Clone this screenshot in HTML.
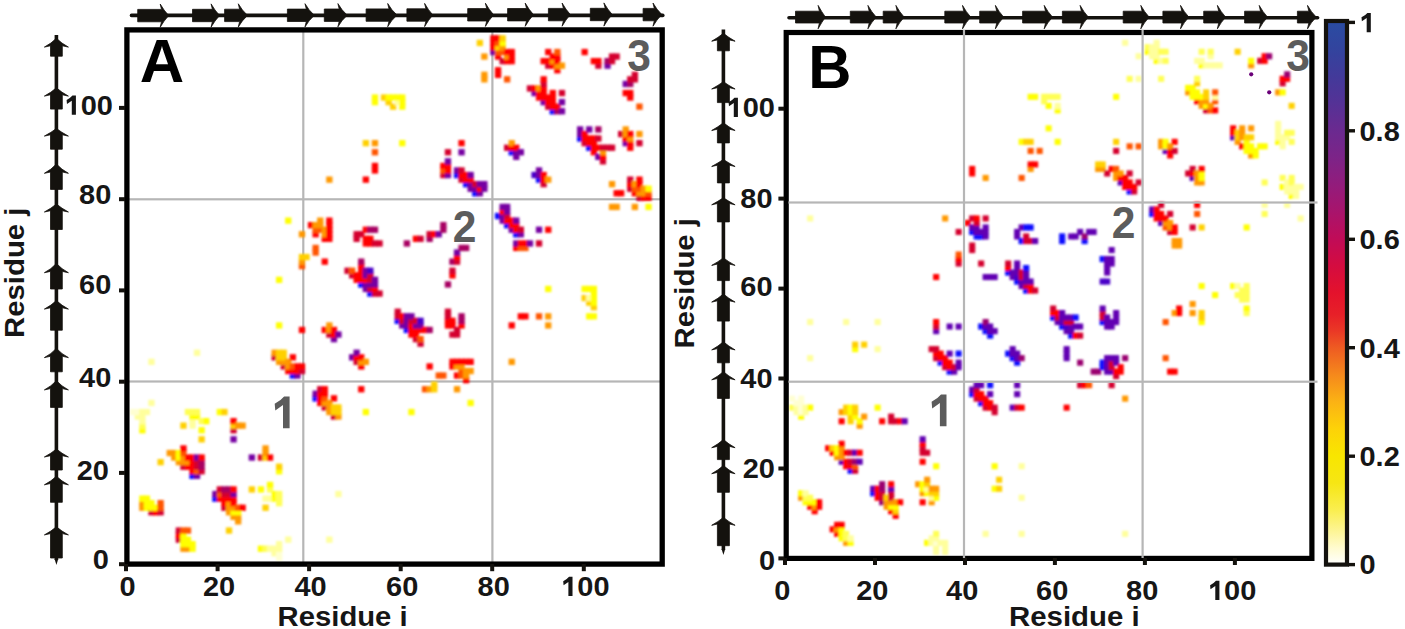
<!DOCTYPE html>
<html><head><meta charset="utf-8"><title>Contact maps</title>
<style>html,body{margin:0;padding:0;background:#fff;}body{width:1405px;height:629px;overflow:hidden;font-family:"Liberation Sans",sans-serif;}svg{display:block;}</style>
</head><body>
<svg width="1405" height="629" viewBox="0 0 1405 629">
<rect width="1405" height="629" fill="#ffffff"/>
<defs><filter id="bl" x="-2%" y="-2%" width="104%" height="104%"><feGaussianBlur stdDeviation="0.85"/></filter></defs>
<rect x="302.2" y="32" width="2.2" height="530" fill="#b6b6b6"/>
<rect x="491.3" y="32" width="2.2" height="530" fill="#b6b6b6"/>
<rect x="129" y="198.2" width="531" height="2.2" fill="#b6b6b6"/>
<rect x="129" y="380.4" width="531" height="2.2" fill="#b6b6b6"/>
<g filter="url(#bl)"><rect x="130.1" y="408.9" width="6.3" height="6.3" fill="#ffffd2"/>
<rect x="134.7" y="413.4" width="6.3" height="6.3" fill="#ffff9c"/>
<rect x="134.7" y="408.9" width="6.3" height="6.3" fill="#ffffd2"/>
<rect x="139.2" y="504.6" width="6.3" height="6.3" fill="#ff9800"/>
<rect x="139.2" y="500.0" width="6.3" height="6.3" fill="#ff9800"/>
<rect x="139.2" y="495.5" width="6.3" height="6.3" fill="#ffff00"/>
<rect x="139.2" y="427.1" width="6.3" height="6.3" fill="#ffff00"/>
<rect x="139.2" y="422.5" width="6.3" height="6.3" fill="#ffff55"/>
<rect x="139.2" y="418.0" width="6.3" height="6.3" fill="#ffff9c"/>
<rect x="139.2" y="413.4" width="6.3" height="6.3" fill="#ffff9c"/>
<rect x="139.2" y="408.9" width="6.3" height="6.3" fill="#ffff9c"/>
<rect x="143.8" y="504.6" width="6.3" height="6.3" fill="#ffff00"/>
<rect x="143.8" y="500.0" width="6.3" height="6.3" fill="#ffff00"/>
<rect x="143.8" y="495.5" width="6.3" height="6.3" fill="#ffff00"/>
<rect x="143.8" y="408.9" width="6.3" height="6.3" fill="#ffff9c"/>
<rect x="148.3" y="509.1" width="6.3" height="6.3" fill="#d4002e"/>
<rect x="148.3" y="504.6" width="6.3" height="6.3" fill="#ffff00"/>
<rect x="148.3" y="500.0" width="6.3" height="6.3" fill="#ffff00"/>
<rect x="148.3" y="399.8" width="6.3" height="6.3" fill="#ffff9c"/>
<rect x="148.3" y="358.7" width="6.3" height="6.3" fill="#ffff9c"/>
<rect x="152.9" y="509.1" width="6.3" height="6.3" fill="#ff0000"/>
<rect x="152.9" y="504.6" width="6.3" height="6.3" fill="#ffff00"/>
<rect x="157.5" y="509.1" width="6.3" height="6.3" fill="#d4002e"/>
<rect x="157.5" y="504.6" width="6.3" height="6.3" fill="#ff5500"/>
<rect x="157.5" y="500.0" width="6.3" height="6.3" fill="#ff5500"/>
<rect x="157.5" y="459.0" width="6.3" height="6.3" fill="#ffd000"/>
<rect x="166.6" y="449.9" width="6.3" height="6.3" fill="#ff9800"/>
<rect x="171.1" y="454.4" width="6.3" height="6.3" fill="#ff9800"/>
<rect x="171.1" y="449.9" width="6.3" height="6.3" fill="#ff9800"/>
<rect x="175.7" y="536.5" width="6.3" height="6.3" fill="#d4002e"/>
<rect x="175.7" y="531.9" width="6.3" height="6.3" fill="#ff0000"/>
<rect x="175.7" y="527.4" width="6.3" height="6.3" fill="#d4002e"/>
<rect x="175.7" y="459.0" width="6.3" height="6.3" fill="#ff9800"/>
<rect x="175.7" y="454.4" width="6.3" height="6.3" fill="#ffff00"/>
<rect x="175.7" y="449.9" width="6.3" height="6.3" fill="#ffff00"/>
<rect x="180.3" y="545.6" width="6.3" height="6.3" fill="#ff9800"/>
<rect x="180.3" y="541.0" width="6.3" height="6.3" fill="#ffff00"/>
<rect x="180.3" y="536.5" width="6.3" height="6.3" fill="#ffff00"/>
<rect x="180.3" y="531.9" width="6.3" height="6.3" fill="#ffff00"/>
<rect x="180.3" y="527.4" width="6.3" height="6.3" fill="#ff5500"/>
<rect x="180.3" y="463.6" width="6.3" height="6.3" fill="#d4002e"/>
<rect x="180.3" y="459.0" width="6.3" height="6.3" fill="#ff9800"/>
<rect x="180.3" y="454.4" width="6.3" height="6.3" fill="#ff9800"/>
<rect x="180.3" y="449.9" width="6.3" height="6.3" fill="#ff5500"/>
<rect x="180.3" y="445.3" width="6.3" height="6.3" fill="#ff0000"/>
<rect x="180.3" y="422.5" width="6.3" height="6.3" fill="#ffd000"/>
<rect x="184.8" y="545.6" width="6.3" height="6.3" fill="#ff9800"/>
<rect x="184.8" y="541.0" width="6.3" height="6.3" fill="#ffff00"/>
<rect x="184.8" y="536.5" width="6.3" height="6.3" fill="#ffff00"/>
<rect x="184.8" y="527.4" width="6.3" height="6.3" fill="#ff5500"/>
<rect x="184.8" y="463.6" width="6.3" height="6.3" fill="#ff0000"/>
<rect x="184.8" y="459.0" width="6.3" height="6.3" fill="#ff9800"/>
<rect x="184.8" y="454.4" width="6.3" height="6.3" fill="#ff0000"/>
<rect x="184.8" y="408.9" width="6.3" height="6.3" fill="#ffff55"/>
<rect x="189.4" y="545.6" width="6.3" height="6.3" fill="#ffff00"/>
<rect x="189.4" y="541.0" width="6.3" height="6.3" fill="#ffff00"/>
<rect x="189.4" y="472.7" width="6.3" height="6.3" fill="#0a0aff"/>
<rect x="189.4" y="468.1" width="6.3" height="6.3" fill="#ff0000"/>
<rect x="189.4" y="463.6" width="6.3" height="6.3" fill="#ff0000"/>
<rect x="189.4" y="459.0" width="6.3" height="6.3" fill="#ff0000"/>
<rect x="189.4" y="454.4" width="6.3" height="6.3" fill="#ff0000"/>
<rect x="189.4" y="422.5" width="6.3" height="6.3" fill="#ffff9c"/>
<rect x="189.4" y="418.0" width="6.3" height="6.3" fill="#ffff9c"/>
<rect x="189.4" y="413.4" width="6.3" height="6.3" fill="#ffff00"/>
<rect x="189.4" y="408.9" width="6.3" height="6.3" fill="#ffff55"/>
<rect x="193.9" y="472.7" width="6.3" height="6.3" fill="#7600a2"/>
<rect x="193.9" y="468.1" width="6.3" height="6.3" fill="#ff5500"/>
<rect x="193.9" y="463.6" width="6.3" height="6.3" fill="#d4002e"/>
<rect x="193.9" y="459.0" width="6.3" height="6.3" fill="#d4002e"/>
<rect x="193.9" y="454.4" width="6.3" height="6.3" fill="#7600a2"/>
<rect x="193.9" y="413.4" width="6.3" height="6.3" fill="#ffff00"/>
<rect x="193.9" y="408.9" width="6.3" height="6.3" fill="#ffff55"/>
<rect x="193.9" y="349.6" width="6.3" height="6.3" fill="#ffff9c"/>
<rect x="198.5" y="468.1" width="6.3" height="6.3" fill="#d4002e"/>
<rect x="198.5" y="463.6" width="6.3" height="6.3" fill="#a80062"/>
<rect x="198.5" y="459.0" width="6.3" height="6.3" fill="#a80062"/>
<rect x="198.5" y="454.4" width="6.3" height="6.3" fill="#ff0000"/>
<rect x="198.5" y="436.2" width="6.3" height="6.3" fill="#ffd000"/>
<rect x="198.5" y="427.1" width="6.3" height="6.3" fill="#ffff00"/>
<rect x="198.5" y="418.0" width="6.3" height="6.3" fill="#ffff55"/>
<rect x="203.1" y="418.0" width="6.3" height="6.3" fill="#ffff00"/>
<rect x="212.2" y="495.5" width="6.3" height="6.3" fill="#0a0aff"/>
<rect x="212.2" y="490.9" width="6.3" height="6.3" fill="#7600a2"/>
<rect x="216.7" y="495.5" width="6.3" height="6.3" fill="#ff0000"/>
<rect x="216.7" y="490.9" width="6.3" height="6.3" fill="#ff5500"/>
<rect x="216.7" y="486.3" width="6.3" height="6.3" fill="#d4002e"/>
<rect x="216.7" y="408.9" width="6.3" height="6.3" fill="#ffff00"/>
<rect x="221.3" y="504.6" width="6.3" height="6.3" fill="#d4002e"/>
<rect x="221.3" y="500.0" width="6.3" height="6.3" fill="#ff0000"/>
<rect x="221.3" y="495.5" width="6.3" height="6.3" fill="#ff0000"/>
<rect x="221.3" y="490.9" width="6.3" height="6.3" fill="#d4002e"/>
<rect x="221.3" y="486.3" width="6.3" height="6.3" fill="#a80062"/>
<rect x="221.3" y="408.9" width="6.3" height="6.3" fill="#ffd000"/>
<rect x="225.9" y="527.4" width="6.3" height="6.3" fill="#ffd000"/>
<rect x="225.9" y="509.1" width="6.3" height="6.3" fill="#ff9800"/>
<rect x="225.9" y="504.6" width="6.3" height="6.3" fill="#ff9800"/>
<rect x="225.9" y="500.0" width="6.3" height="6.3" fill="#ff9800"/>
<rect x="225.9" y="495.5" width="6.3" height="6.3" fill="#ff0000"/>
<rect x="225.9" y="490.9" width="6.3" height="6.3" fill="#d4002e"/>
<rect x="225.9" y="486.3" width="6.3" height="6.3" fill="#a80062"/>
<rect x="230.4" y="513.7" width="6.3" height="6.3" fill="#ff9800"/>
<rect x="230.4" y="509.1" width="6.3" height="6.3" fill="#ffff00"/>
<rect x="230.4" y="504.6" width="6.3" height="6.3" fill="#ff9800"/>
<rect x="230.4" y="500.0" width="6.3" height="6.3" fill="#ff0000"/>
<rect x="230.4" y="495.5" width="6.3" height="6.3" fill="#ff0000"/>
<rect x="230.4" y="490.9" width="6.3" height="6.3" fill="#7600a2"/>
<rect x="230.4" y="486.3" width="6.3" height="6.3" fill="#ff0000"/>
<rect x="230.4" y="436.2" width="6.3" height="6.3" fill="#7600a2"/>
<rect x="230.4" y="427.1" width="6.3" height="6.3" fill="#d4002e"/>
<rect x="230.4" y="422.5" width="6.3" height="6.3" fill="#ffd000"/>
<rect x="230.4" y="418.0" width="6.3" height="6.3" fill="#ff0000"/>
<rect x="235.0" y="518.2" width="6.3" height="6.3" fill="#ff9800"/>
<rect x="235.0" y="513.7" width="6.3" height="6.3" fill="#ff9800"/>
<rect x="235.0" y="509.1" width="6.3" height="6.3" fill="#ffff00"/>
<rect x="235.0" y="504.6" width="6.3" height="6.3" fill="#ff5500"/>
<rect x="235.0" y="422.5" width="6.3" height="6.3" fill="#ff9800"/>
<rect x="239.5" y="504.6" width="6.3" height="6.3" fill="#ff0000"/>
<rect x="239.5" y="422.5" width="6.3" height="6.3" fill="#ff9800"/>
<rect x="248.7" y="486.3" width="6.3" height="6.3" fill="#ffd000"/>
<rect x="248.7" y="454.4" width="6.3" height="6.3" fill="#7600a2"/>
<rect x="257.8" y="545.6" width="6.3" height="6.3" fill="#ffff00"/>
<rect x="257.8" y="486.3" width="6.3" height="6.3" fill="#ffff00"/>
<rect x="257.8" y="454.4" width="6.3" height="6.3" fill="#d4002e"/>
<rect x="262.4" y="545.6" width="6.3" height="6.3" fill="#ffff55"/>
<rect x="262.4" y="504.6" width="6.3" height="6.3" fill="#ffd000"/>
<rect x="262.4" y="495.5" width="6.3" height="6.3" fill="#ffff9c"/>
<rect x="262.4" y="454.4" width="6.3" height="6.3" fill="#ffd000"/>
<rect x="262.4" y="449.9" width="6.3" height="6.3" fill="#ff9800"/>
<rect x="262.4" y="445.3" width="6.3" height="6.3" fill="#ff9800"/>
<rect x="266.9" y="545.6" width="6.3" height="6.3" fill="#ffff9c"/>
<rect x="266.9" y="495.5" width="6.3" height="6.3" fill="#ffff9c"/>
<rect x="266.9" y="486.3" width="6.3" height="6.3" fill="#ffff55"/>
<rect x="266.9" y="481.8" width="6.3" height="6.3" fill="#ffff00"/>
<rect x="266.9" y="454.4" width="6.3" height="6.3" fill="#ff0000"/>
<rect x="271.5" y="550.1" width="6.3" height="6.3" fill="#ffff9c"/>
<rect x="271.5" y="545.6" width="6.3" height="6.3" fill="#ffff9c"/>
<rect x="271.5" y="495.5" width="6.3" height="6.3" fill="#ffff00"/>
<rect x="271.5" y="490.9" width="6.3" height="6.3" fill="#ffff00"/>
<rect x="271.5" y="354.2" width="6.3" height="6.3" fill="#d4002e"/>
<rect x="271.5" y="349.6" width="6.3" height="6.3" fill="#ff9800"/>
<rect x="276.0" y="554.7" width="6.3" height="6.3" fill="#ffffd2"/>
<rect x="276.0" y="550.1" width="6.3" height="6.3" fill="#ffffd2"/>
<rect x="276.0" y="545.6" width="6.3" height="6.3" fill="#ffff9c"/>
<rect x="276.0" y="541.0" width="6.3" height="6.3" fill="#ffff9c"/>
<rect x="276.0" y="500.0" width="6.3" height="6.3" fill="#ffff55"/>
<rect x="276.0" y="495.5" width="6.3" height="6.3" fill="#ffff55"/>
<rect x="276.0" y="490.9" width="6.3" height="6.3" fill="#ffff55"/>
<rect x="276.0" y="468.1" width="6.3" height="6.3" fill="#ffff00"/>
<rect x="276.0" y="463.6" width="6.3" height="6.3" fill="#ffd000"/>
<rect x="276.0" y="358.7" width="6.3" height="6.3" fill="#ff9800"/>
<rect x="276.0" y="354.2" width="6.3" height="6.3" fill="#ffd000"/>
<rect x="276.0" y="349.6" width="6.3" height="6.3" fill="#ffd000"/>
<rect x="276.0" y="322.3" width="6.3" height="6.3" fill="#ffff00"/>
<rect x="276.0" y="276.7" width="6.3" height="6.3" fill="#ffff00"/>
<rect x="280.6" y="363.3" width="6.3" height="6.3" fill="#d4002e"/>
<rect x="280.6" y="358.7" width="6.3" height="6.3" fill="#ff9800"/>
<rect x="280.6" y="354.2" width="6.3" height="6.3" fill="#ffd000"/>
<rect x="280.6" y="349.6" width="6.3" height="6.3" fill="#ffd000"/>
<rect x="285.1" y="536.5" width="6.3" height="6.3" fill="#ffff9c"/>
<rect x="285.1" y="367.9" width="6.3" height="6.3" fill="#ff0000"/>
<rect x="285.1" y="363.3" width="6.3" height="6.3" fill="#ff9800"/>
<rect x="285.1" y="358.7" width="6.3" height="6.3" fill="#ff9800"/>
<rect x="285.1" y="217.5" width="6.3" height="6.3" fill="#ffff00"/>
<rect x="289.7" y="372.4" width="6.3" height="6.3" fill="#0a0aff"/>
<rect x="289.7" y="367.9" width="6.3" height="6.3" fill="#ff0000"/>
<rect x="289.7" y="363.3" width="6.3" height="6.3" fill="#ff5500"/>
<rect x="289.7" y="354.2" width="6.3" height="6.3" fill="#ff0000"/>
<rect x="294.3" y="372.4" width="6.3" height="6.3" fill="#7600a2"/>
<rect x="294.3" y="367.9" width="6.3" height="6.3" fill="#ff0000"/>
<rect x="294.3" y="363.3" width="6.3" height="6.3" fill="#ff0000"/>
<rect x="298.8" y="367.9" width="6.3" height="6.3" fill="#d4002e"/>
<rect x="298.8" y="363.3" width="6.3" height="6.3" fill="#ff0000"/>
<rect x="298.8" y="326.8" width="6.3" height="6.3" fill="#ff0000"/>
<rect x="298.8" y="263.0" width="6.3" height="6.3" fill="#ff5500"/>
<rect x="298.8" y="258.5" width="6.3" height="6.3" fill="#ff9800"/>
<rect x="298.8" y="253.9" width="6.3" height="6.3" fill="#ffd000"/>
<rect x="298.8" y="231.1" width="6.3" height="6.3" fill="#ff9800"/>
<rect x="303.4" y="253.9" width="6.3" height="6.3" fill="#ffd000"/>
<rect x="307.9" y="222.0" width="6.3" height="6.3" fill="#ff0000"/>
<rect x="312.5" y="395.2" width="6.3" height="6.3" fill="#0a0aff"/>
<rect x="312.5" y="390.6" width="6.3" height="6.3" fill="#7600a2"/>
<rect x="312.5" y="249.4" width="6.3" height="6.3" fill="#ff5500"/>
<rect x="312.5" y="244.8" width="6.3" height="6.3" fill="#ff5500"/>
<rect x="312.5" y="231.1" width="6.3" height="6.3" fill="#ff0000"/>
<rect x="312.5" y="226.6" width="6.3" height="6.3" fill="#ff5500"/>
<rect x="312.5" y="222.0" width="6.3" height="6.3" fill="#ff9800"/>
<rect x="317.1" y="399.8" width="6.3" height="6.3" fill="#ff0000"/>
<rect x="317.1" y="395.2" width="6.3" height="6.3" fill="#ff0000"/>
<rect x="317.1" y="390.6" width="6.3" height="6.3" fill="#ff0000"/>
<rect x="317.1" y="386.1" width="6.3" height="6.3" fill="#d4002e"/>
<rect x="317.1" y="226.6" width="6.3" height="6.3" fill="#ff5500"/>
<rect x="317.1" y="222.0" width="6.3" height="6.3" fill="#ff9800"/>
<rect x="317.1" y="217.5" width="6.3" height="6.3" fill="#ff9800"/>
<rect x="321.6" y="404.3" width="6.3" height="6.3" fill="#d4002e"/>
<rect x="321.6" y="399.8" width="6.3" height="6.3" fill="#ff9800"/>
<rect x="321.6" y="395.2" width="6.3" height="6.3" fill="#ff5500"/>
<rect x="321.6" y="390.6" width="6.3" height="6.3" fill="#ff0000"/>
<rect x="321.6" y="386.1" width="6.3" height="6.3" fill="#ff0000"/>
<rect x="321.6" y="326.8" width="6.3" height="6.3" fill="#ff0000"/>
<rect x="321.6" y="258.5" width="6.3" height="6.3" fill="#ff0000"/>
<rect x="321.6" y="235.7" width="6.3" height="6.3" fill="#ff0000"/>
<rect x="321.6" y="231.1" width="6.3" height="6.3" fill="#ff9800"/>
<rect x="321.6" y="226.6" width="6.3" height="6.3" fill="#ff9800"/>
<rect x="326.2" y="536.5" width="6.3" height="6.3" fill="#ffff9c"/>
<rect x="326.2" y="408.9" width="6.3" height="6.3" fill="#ff9800"/>
<rect x="326.2" y="404.3" width="6.3" height="6.3" fill="#ff9800"/>
<rect x="326.2" y="399.8" width="6.3" height="6.3" fill="#ff9800"/>
<rect x="326.2" y="331.4" width="6.3" height="6.3" fill="#d4002e"/>
<rect x="326.2" y="326.8" width="6.3" height="6.3" fill="#ff9800"/>
<rect x="326.2" y="322.3" width="6.3" height="6.3" fill="#ff9800"/>
<rect x="326.2" y="235.7" width="6.3" height="6.3" fill="#ff0000"/>
<rect x="326.2" y="231.1" width="6.3" height="6.3" fill="#ff0000"/>
<rect x="326.2" y="226.6" width="6.3" height="6.3" fill="#ff0000"/>
<rect x="326.2" y="222.0" width="6.3" height="6.3" fill="#ff0000"/>
<rect x="326.2" y="217.5" width="6.3" height="6.3" fill="#ff0000"/>
<rect x="326.2" y="176.5" width="6.3" height="6.3" fill="#ff9800"/>
<rect x="330.8" y="413.4" width="6.3" height="6.3" fill="#d4002e"/>
<rect x="330.8" y="408.9" width="6.3" height="6.3" fill="#ffd000"/>
<rect x="330.8" y="404.3" width="6.3" height="6.3" fill="#ffd000"/>
<rect x="330.8" y="395.2" width="6.3" height="6.3" fill="#ff0000"/>
<rect x="330.8" y="336.0" width="6.3" height="6.3" fill="#7600a2"/>
<rect x="330.8" y="331.4" width="6.3" height="6.3" fill="#ff0000"/>
<rect x="330.8" y="326.8" width="6.3" height="6.3" fill="#ff0000"/>
<rect x="335.3" y="490.9" width="6.3" height="6.3" fill="#ffff9c"/>
<rect x="335.3" y="413.4" width="6.3" height="6.3" fill="#ff9800"/>
<rect x="335.3" y="408.9" width="6.3" height="6.3" fill="#ffd000"/>
<rect x="335.3" y="404.3" width="6.3" height="6.3" fill="#ffd000"/>
<rect x="335.3" y="331.4" width="6.3" height="6.3" fill="#7600a2"/>
<rect x="344.4" y="267.6" width="6.3" height="6.3" fill="#d4002e"/>
<rect x="349.0" y="354.2" width="6.3" height="6.3" fill="#7600a2"/>
<rect x="349.0" y="272.2" width="6.3" height="6.3" fill="#d4002e"/>
<rect x="349.0" y="267.6" width="6.3" height="6.3" fill="#ff5500"/>
<rect x="353.5" y="358.7" width="6.3" height="6.3" fill="#d4002e"/>
<rect x="353.5" y="354.2" width="6.3" height="6.3" fill="#ff0000"/>
<rect x="353.5" y="349.6" width="6.3" height="6.3" fill="#7600a2"/>
<rect x="353.5" y="276.7" width="6.3" height="6.3" fill="#ff0000"/>
<rect x="353.5" y="272.2" width="6.3" height="6.3" fill="#ff0000"/>
<rect x="353.5" y="235.7" width="6.3" height="6.3" fill="#d4002e"/>
<rect x="353.5" y="231.1" width="6.3" height="6.3" fill="#d4002e"/>
<rect x="358.1" y="386.1" width="6.3" height="6.3" fill="#ff0000"/>
<rect x="358.1" y="363.3" width="6.3" height="6.3" fill="#ff0000"/>
<rect x="358.1" y="358.7" width="6.3" height="6.3" fill="#ff9800"/>
<rect x="358.1" y="354.2" width="6.3" height="6.3" fill="#ff0000"/>
<rect x="358.1" y="281.3" width="6.3" height="6.3" fill="#0a0aff"/>
<rect x="358.1" y="276.7" width="6.3" height="6.3" fill="#ff0000"/>
<rect x="358.1" y="272.2" width="6.3" height="6.3" fill="#ff0000"/>
<rect x="358.1" y="267.6" width="6.3" height="6.3" fill="#ff0000"/>
<rect x="358.1" y="263.0" width="6.3" height="6.3" fill="#ff0000"/>
<rect x="358.1" y="258.5" width="6.3" height="6.3" fill="#a80062"/>
<rect x="358.1" y="231.1" width="6.3" height="6.3" fill="#d4002e"/>
<rect x="362.7" y="408.9" width="6.3" height="6.3" fill="#ffff00"/>
<rect x="362.7" y="358.7" width="6.3" height="6.3" fill="#ff9800"/>
<rect x="362.7" y="285.8" width="6.3" height="6.3" fill="#7600a2"/>
<rect x="362.7" y="281.3" width="6.3" height="6.3" fill="#7600a2"/>
<rect x="362.7" y="276.7" width="6.3" height="6.3" fill="#ff0000"/>
<rect x="362.7" y="272.2" width="6.3" height="6.3" fill="#7600a2"/>
<rect x="362.7" y="267.6" width="6.3" height="6.3" fill="#7600a2"/>
<rect x="362.7" y="240.3" width="6.3" height="6.3" fill="#ff0000"/>
<rect x="362.7" y="235.7" width="6.3" height="6.3" fill="#ff0000"/>
<rect x="362.7" y="226.6" width="6.3" height="6.3" fill="#ff0000"/>
<rect x="362.7" y="176.5" width="6.3" height="6.3" fill="#ff0000"/>
<rect x="362.7" y="140.0" width="6.3" height="6.3" fill="#ffd000"/>
<rect x="367.2" y="290.4" width="6.3" height="6.3" fill="#0a0aff"/>
<rect x="367.2" y="285.8" width="6.3" height="6.3" fill="#d4002e"/>
<rect x="367.2" y="281.3" width="6.3" height="6.3" fill="#7600a2"/>
<rect x="367.2" y="276.7" width="6.3" height="6.3" fill="#d4002e"/>
<rect x="367.2" y="272.2" width="6.3" height="6.3" fill="#d4002e"/>
<rect x="367.2" y="267.6" width="6.3" height="6.3" fill="#4a00c8"/>
<rect x="367.2" y="240.3" width="6.3" height="6.3" fill="#ff0000"/>
<rect x="367.2" y="235.7" width="6.3" height="6.3" fill="#ff0000"/>
<rect x="367.2" y="226.6" width="6.3" height="6.3" fill="#a80062"/>
<rect x="371.8" y="290.4" width="6.3" height="6.3" fill="#d4002e"/>
<rect x="371.8" y="285.8" width="6.3" height="6.3" fill="#ff0000"/>
<rect x="371.8" y="281.3" width="6.3" height="6.3" fill="#7600a2"/>
<rect x="371.8" y="276.7" width="6.3" height="6.3" fill="#7600a2"/>
<rect x="371.8" y="240.3" width="6.3" height="6.3" fill="#d4002e"/>
<rect x="371.8" y="226.6" width="6.3" height="6.3" fill="#a80062"/>
<rect x="371.8" y="167.3" width="6.3" height="6.3" fill="#ff0000"/>
<rect x="371.8" y="162.8" width="6.3" height="6.3" fill="#ff0000"/>
<rect x="371.8" y="149.1" width="6.3" height="6.3" fill="#ff5500"/>
<rect x="371.8" y="140.0" width="6.3" height="6.3" fill="#ff9800"/>
<rect x="371.8" y="99.0" width="6.3" height="6.3" fill="#ffff00"/>
<rect x="371.8" y="94.4" width="6.3" height="6.3" fill="#ffff00"/>
<rect x="376.4" y="290.4" width="6.3" height="6.3" fill="#d4002e"/>
<rect x="376.4" y="240.3" width="6.3" height="6.3" fill="#d4002e"/>
<rect x="380.9" y="94.4" width="6.3" height="6.3" fill="#ffd000"/>
<rect x="385.5" y="99.0" width="6.3" height="6.3" fill="#ffd000"/>
<rect x="385.5" y="94.4" width="6.3" height="6.3" fill="#ffff00"/>
<rect x="390.0" y="103.5" width="6.3" height="6.3" fill="#ffd000"/>
<rect x="390.0" y="94.4" width="6.3" height="6.3" fill="#ffff00"/>
<rect x="394.6" y="317.7" width="6.3" height="6.3" fill="#0a0aff"/>
<rect x="394.6" y="313.2" width="6.3" height="6.3" fill="#d4002e"/>
<rect x="394.6" y="308.6" width="6.3" height="6.3" fill="#d4002e"/>
<rect x="394.6" y="99.0" width="6.3" height="6.3" fill="#ffff9c"/>
<rect x="394.6" y="94.4" width="6.3" height="6.3" fill="#ffff00"/>
<rect x="399.1" y="322.3" width="6.3" height="6.3" fill="#7600a2"/>
<rect x="399.1" y="317.7" width="6.3" height="6.3" fill="#d4002e"/>
<rect x="399.1" y="313.2" width="6.3" height="6.3" fill="#ff0000"/>
<rect x="399.1" y="140.0" width="6.3" height="6.3" fill="#ffff00"/>
<rect x="399.1" y="103.5" width="6.3" height="6.3" fill="#ffff00"/>
<rect x="399.1" y="99.0" width="6.3" height="6.3" fill="#ffff00"/>
<rect x="399.1" y="94.4" width="6.3" height="6.3" fill="#ffff00"/>
<rect x="403.7" y="326.8" width="6.3" height="6.3" fill="#0a0aff"/>
<rect x="403.7" y="322.3" width="6.3" height="6.3" fill="#7600a2"/>
<rect x="403.7" y="317.7" width="6.3" height="6.3" fill="#7600a2"/>
<rect x="403.7" y="313.2" width="6.3" height="6.3" fill="#7600a2"/>
<rect x="403.7" y="240.3" width="6.3" height="6.3" fill="#a80062"/>
<rect x="408.3" y="408.9" width="6.3" height="6.3" fill="#ffff00"/>
<rect x="408.3" y="331.4" width="6.3" height="6.3" fill="#ff0000"/>
<rect x="408.3" y="326.8" width="6.3" height="6.3" fill="#ff0000"/>
<rect x="408.3" y="322.3" width="6.3" height="6.3" fill="#ff0000"/>
<rect x="408.3" y="317.7" width="6.3" height="6.3" fill="#d4002e"/>
<rect x="408.3" y="313.2" width="6.3" height="6.3" fill="#7600a2"/>
<rect x="412.8" y="336.0" width="6.3" height="6.3" fill="#d4002e"/>
<rect x="412.8" y="331.4" width="6.3" height="6.3" fill="#ff0000"/>
<rect x="412.8" y="326.8" width="6.3" height="6.3" fill="#ff0000"/>
<rect x="412.8" y="322.3" width="6.3" height="6.3" fill="#7600a2"/>
<rect x="412.8" y="317.7" width="6.3" height="6.3" fill="#d4002e"/>
<rect x="412.8" y="235.7" width="6.3" height="6.3" fill="#ff0000"/>
<rect x="417.4" y="340.5" width="6.3" height="6.3" fill="#d4002e"/>
<rect x="417.4" y="336.0" width="6.3" height="6.3" fill="#ff5500"/>
<rect x="417.4" y="326.8" width="6.3" height="6.3" fill="#ff0000"/>
<rect x="417.4" y="322.3" width="6.3" height="6.3" fill="#7600a2"/>
<rect x="417.4" y="317.7" width="6.3" height="6.3" fill="#4a00c8"/>
<rect x="417.4" y="235.7" width="6.3" height="6.3" fill="#d4002e"/>
<rect x="421.9" y="386.1" width="6.3" height="6.3" fill="#ff5500"/>
<rect x="421.9" y="326.8" width="6.3" height="6.3" fill="#ff0000"/>
<rect x="426.5" y="386.1" width="6.3" height="6.3" fill="#ff9800"/>
<rect x="426.5" y="363.3" width="6.3" height="6.3" fill="#ff0000"/>
<rect x="426.5" y="326.8" width="6.3" height="6.3" fill="#a80062"/>
<rect x="426.5" y="235.7" width="6.3" height="6.3" fill="#a80062"/>
<rect x="426.5" y="231.1" width="6.3" height="6.3" fill="#d4002e"/>
<rect x="431.1" y="386.1" width="6.3" height="6.3" fill="#ffd000"/>
<rect x="431.1" y="381.5" width="6.3" height="6.3" fill="#ffd000"/>
<rect x="431.1" y="231.1" width="6.3" height="6.3" fill="#ff0000"/>
<rect x="435.6" y="372.4" width="6.3" height="6.3" fill="#ff5500"/>
<rect x="435.6" y="231.1" width="6.3" height="6.3" fill="#7600a2"/>
<rect x="440.2" y="372.4" width="6.3" height="6.3" fill="#ff5500"/>
<rect x="440.2" y="226.6" width="6.3" height="6.3" fill="#a80062"/>
<rect x="440.2" y="222.0" width="6.3" height="6.3" fill="#a80062"/>
<rect x="440.2" y="171.9" width="6.3" height="6.3" fill="#d4002e"/>
<rect x="440.2" y="167.3" width="6.3" height="6.3" fill="#ff5500"/>
<rect x="440.2" y="162.8" width="6.3" height="6.3" fill="#ff0000"/>
<rect x="444.8" y="322.3" width="6.3" height="6.3" fill="#ff0000"/>
<rect x="444.8" y="317.7" width="6.3" height="6.3" fill="#ff0000"/>
<rect x="444.8" y="313.2" width="6.3" height="6.3" fill="#d4002e"/>
<rect x="444.8" y="308.6" width="6.3" height="6.3" fill="#d4002e"/>
<rect x="444.8" y="281.3" width="6.3" height="6.3" fill="#a80062"/>
<rect x="444.8" y="171.9" width="6.3" height="6.3" fill="#7600a2"/>
<rect x="444.8" y="167.3" width="6.3" height="6.3" fill="#ff0000"/>
<rect x="444.8" y="162.8" width="6.3" height="6.3" fill="#ff0000"/>
<rect x="444.8" y="158.2" width="6.3" height="6.3" fill="#7600a2"/>
<rect x="444.8" y="149.1" width="6.3" height="6.3" fill="#d4002e"/>
<rect x="449.3" y="363.3" width="6.3" height="6.3" fill="#ff0000"/>
<rect x="449.3" y="358.7" width="6.3" height="6.3" fill="#ff0000"/>
<rect x="449.3" y="331.4" width="6.3" height="6.3" fill="#d4002e"/>
<rect x="449.3" y="322.3" width="6.3" height="6.3" fill="#ff0000"/>
<rect x="449.3" y="317.7" width="6.3" height="6.3" fill="#ff0000"/>
<rect x="449.3" y="272.2" width="6.3" height="6.3" fill="#ff0000"/>
<rect x="449.3" y="267.6" width="6.3" height="6.3" fill="#d4002e"/>
<rect x="449.3" y="258.5" width="6.3" height="6.3" fill="#a80062"/>
<rect x="453.9" y="386.1" width="6.3" height="6.3" fill="#ff9800"/>
<rect x="453.9" y="372.4" width="6.3" height="6.3" fill="#ff0000"/>
<rect x="453.9" y="363.3" width="6.3" height="6.3" fill="#ff9800"/>
<rect x="453.9" y="358.7" width="6.3" height="6.3" fill="#ff0000"/>
<rect x="453.9" y="331.4" width="6.3" height="6.3" fill="#d4002e"/>
<rect x="453.9" y="326.8" width="6.3" height="6.3" fill="#d4002e"/>
<rect x="453.9" y="258.5" width="6.3" height="6.3" fill="#d4002e"/>
<rect x="453.9" y="253.9" width="6.3" height="6.3" fill="#ff0000"/>
<rect x="453.9" y="249.4" width="6.3" height="6.3" fill="#7600a2"/>
<rect x="453.9" y="171.9" width="6.3" height="6.3" fill="#0a0aff"/>
<rect x="453.9" y="167.3" width="6.3" height="6.3" fill="#7600a2"/>
<rect x="458.4" y="372.4" width="6.3" height="6.3" fill="#ff5500"/>
<rect x="458.4" y="367.9" width="6.3" height="6.3" fill="#ff5500"/>
<rect x="458.4" y="363.3" width="6.3" height="6.3" fill="#ff9800"/>
<rect x="458.4" y="358.7" width="6.3" height="6.3" fill="#ff0000"/>
<rect x="458.4" y="322.3" width="6.3" height="6.3" fill="#ff0000"/>
<rect x="458.4" y="317.7" width="6.3" height="6.3" fill="#a80062"/>
<rect x="458.4" y="313.2" width="6.3" height="6.3" fill="#a80062"/>
<rect x="458.4" y="244.8" width="6.3" height="6.3" fill="#a80062"/>
<rect x="458.4" y="176.5" width="6.3" height="6.3" fill="#d4002e"/>
<rect x="458.4" y="171.9" width="6.3" height="6.3" fill="#ff0000"/>
<rect x="458.4" y="167.3" width="6.3" height="6.3" fill="#d4002e"/>
<rect x="458.4" y="149.1" width="6.3" height="6.3" fill="#7600a2"/>
<rect x="458.4" y="140.0" width="6.3" height="6.3" fill="#ff0000"/>
<rect x="463.0" y="377.0" width="6.3" height="6.3" fill="#ff0000"/>
<rect x="463.0" y="372.4" width="6.3" height="6.3" fill="#ff9800"/>
<rect x="463.0" y="367.9" width="6.3" height="6.3" fill="#ff9800"/>
<rect x="463.0" y="358.7" width="6.3" height="6.3" fill="#ff0000"/>
<rect x="463.0" y="244.8" width="6.3" height="6.3" fill="#a80062"/>
<rect x="463.0" y="181.0" width="6.3" height="6.3" fill="#0a0aff"/>
<rect x="463.0" y="176.5" width="6.3" height="6.3" fill="#ff0000"/>
<rect x="463.0" y="171.9" width="6.3" height="6.3" fill="#ff0000"/>
<rect x="467.5" y="399.8" width="6.3" height="6.3" fill="#ffff00"/>
<rect x="467.5" y="367.9" width="6.3" height="6.3" fill="#ff9800"/>
<rect x="467.5" y="358.7" width="6.3" height="6.3" fill="#ff0000"/>
<rect x="467.5" y="185.6" width="6.3" height="6.3" fill="#7600a2"/>
<rect x="467.5" y="181.0" width="6.3" height="6.3" fill="#7600a2"/>
<rect x="467.5" y="176.5" width="6.3" height="6.3" fill="#ff0000"/>
<rect x="467.5" y="171.9" width="6.3" height="6.3" fill="#7600a2"/>
<rect x="472.1" y="190.1" width="6.3" height="6.3" fill="#0a0aff"/>
<rect x="472.1" y="185.6" width="6.3" height="6.3" fill="#7600a2"/>
<rect x="472.1" y="181.0" width="6.3" height="6.3" fill="#d4002e"/>
<rect x="476.7" y="190.1" width="6.3" height="6.3" fill="#7600a2"/>
<rect x="476.7" y="185.6" width="6.3" height="6.3" fill="#ff0000"/>
<rect x="476.7" y="181.0" width="6.3" height="6.3" fill="#7600a2"/>
<rect x="476.7" y="39.8" width="6.3" height="6.3" fill="#ffd000"/>
<rect x="481.2" y="185.6" width="6.3" height="6.3" fill="#7600a2"/>
<rect x="481.2" y="181.0" width="6.3" height="6.3" fill="#7600a2"/>
<rect x="481.2" y="76.2" width="6.3" height="6.3" fill="#ff9800"/>
<rect x="481.2" y="71.7" width="6.3" height="6.3" fill="#ff9800"/>
<rect x="481.2" y="53.4" width="6.3" height="6.3" fill="#ff9800"/>
<rect x="490.3" y="48.9" width="6.3" height="6.3" fill="#7600a2"/>
<rect x="490.3" y="44.3" width="6.3" height="6.3" fill="#ff0000"/>
<rect x="490.3" y="39.8" width="6.3" height="6.3" fill="#ff0000"/>
<rect x="490.3" y="35.2" width="6.3" height="6.3" fill="#ff0000"/>
<rect x="494.9" y="212.9" width="6.3" height="6.3" fill="#0a0aff"/>
<rect x="494.9" y="71.7" width="6.3" height="6.3" fill="#ff0000"/>
<rect x="494.9" y="67.1" width="6.3" height="6.3" fill="#ff0000"/>
<rect x="494.9" y="53.4" width="6.3" height="6.3" fill="#ff0000"/>
<rect x="494.9" y="48.9" width="6.3" height="6.3" fill="#ff5500"/>
<rect x="494.9" y="44.3" width="6.3" height="6.3" fill="#ffd000"/>
<rect x="494.9" y="39.8" width="6.3" height="6.3" fill="#ff5500"/>
<rect x="494.9" y="35.2" width="6.3" height="6.3" fill="#ff0000"/>
<rect x="499.5" y="217.5" width="6.3" height="6.3" fill="#7600a2"/>
<rect x="499.5" y="212.9" width="6.3" height="6.3" fill="#7600a2"/>
<rect x="499.5" y="208.4" width="6.3" height="6.3" fill="#ff0000"/>
<rect x="499.5" y="203.8" width="6.3" height="6.3" fill="#7600a2"/>
<rect x="499.5" y="58.0" width="6.3" height="6.3" fill="#d4002e"/>
<rect x="499.5" y="48.9" width="6.3" height="6.3" fill="#ff5500"/>
<rect x="499.5" y="44.3" width="6.3" height="6.3" fill="#ff9800"/>
<rect x="499.5" y="39.8" width="6.3" height="6.3" fill="#ffff00"/>
<rect x="499.5" y="35.2" width="6.3" height="6.3" fill="#ffd000"/>
<rect x="504.0" y="222.0" width="6.3" height="6.3" fill="#0a0aff"/>
<rect x="504.0" y="217.5" width="6.3" height="6.3" fill="#ff0000"/>
<rect x="504.0" y="212.9" width="6.3" height="6.3" fill="#d4002e"/>
<rect x="504.0" y="208.4" width="6.3" height="6.3" fill="#7600a2"/>
<rect x="504.0" y="203.8" width="6.3" height="6.3" fill="#7600a2"/>
<rect x="504.0" y="144.6" width="6.3" height="6.3" fill="#d4002e"/>
<rect x="504.0" y="76.2" width="6.3" height="6.3" fill="#ff5500"/>
<rect x="504.0" y="58.0" width="6.3" height="6.3" fill="#ff0000"/>
<rect x="504.0" y="53.4" width="6.3" height="6.3" fill="#ff9800"/>
<rect x="504.0" y="48.9" width="6.3" height="6.3" fill="#ff0000"/>
<rect x="508.6" y="358.7" width="6.3" height="6.3" fill="#ff9800"/>
<rect x="508.6" y="322.3" width="6.3" height="6.3" fill="#ff0000"/>
<rect x="508.6" y="226.6" width="6.3" height="6.3" fill="#7600a2"/>
<rect x="508.6" y="222.0" width="6.3" height="6.3" fill="#ff0000"/>
<rect x="508.6" y="217.5" width="6.3" height="6.3" fill="#ff0000"/>
<rect x="508.6" y="149.1" width="6.3" height="6.3" fill="#0a0aff"/>
<rect x="508.6" y="144.6" width="6.3" height="6.3" fill="#ff0000"/>
<rect x="508.6" y="140.0" width="6.3" height="6.3" fill="#ff9800"/>
<rect x="508.6" y="58.0" width="6.3" height="6.3" fill="#ff0000"/>
<rect x="508.6" y="53.4" width="6.3" height="6.3" fill="#ff0000"/>
<rect x="508.6" y="48.9" width="6.3" height="6.3" fill="#ff0000"/>
<rect x="513.1" y="244.8" width="6.3" height="6.3" fill="#ff0000"/>
<rect x="513.1" y="240.3" width="6.3" height="6.3" fill="#7600a2"/>
<rect x="513.1" y="231.1" width="6.3" height="6.3" fill="#0a0aff"/>
<rect x="513.1" y="226.6" width="6.3" height="6.3" fill="#ff0000"/>
<rect x="513.1" y="222.0" width="6.3" height="6.3" fill="#ff0000"/>
<rect x="513.1" y="217.5" width="6.3" height="6.3" fill="#7600a2"/>
<rect x="513.1" y="153.7" width="6.3" height="6.3" fill="#7600a2"/>
<rect x="513.1" y="149.1" width="6.3" height="6.3" fill="#7600a2"/>
<rect x="513.1" y="144.6" width="6.3" height="6.3" fill="#ff0000"/>
<rect x="517.7" y="313.2" width="6.3" height="6.3" fill="#ff0000"/>
<rect x="517.7" y="244.8" width="6.3" height="6.3" fill="#ff5500"/>
<rect x="517.7" y="240.3" width="6.3" height="6.3" fill="#ff0000"/>
<rect x="517.7" y="231.1" width="6.3" height="6.3" fill="#7600a2"/>
<rect x="517.7" y="226.6" width="6.3" height="6.3" fill="#d4002e"/>
<rect x="517.7" y="149.1" width="6.3" height="6.3" fill="#7600a2"/>
<rect x="522.3" y="313.2" width="6.3" height="6.3" fill="#ff0000"/>
<rect x="522.3" y="244.8" width="6.3" height="6.3" fill="#ff5500"/>
<rect x="522.3" y="240.3" width="6.3" height="6.3" fill="#ff0000"/>
<rect x="526.8" y="240.3" width="6.3" height="6.3" fill="#7600a2"/>
<rect x="526.8" y="85.3" width="6.3" height="6.3" fill="#d4002e"/>
<rect x="531.4" y="171.9" width="6.3" height="6.3" fill="#4a00c8"/>
<rect x="531.4" y="89.9" width="6.3" height="6.3" fill="#7600a2"/>
<rect x="531.4" y="85.3" width="6.3" height="6.3" fill="#ff0000"/>
<rect x="535.9" y="313.2" width="6.3" height="6.3" fill="#ff5500"/>
<rect x="535.9" y="240.3" width="6.3" height="6.3" fill="#d4002e"/>
<rect x="535.9" y="226.6" width="6.3" height="6.3" fill="#7600a2"/>
<rect x="535.9" y="176.5" width="6.3" height="6.3" fill="#0a0aff"/>
<rect x="535.9" y="171.9" width="6.3" height="6.3" fill="#7600a2"/>
<rect x="535.9" y="167.3" width="6.3" height="6.3" fill="#7600a2"/>
<rect x="535.9" y="94.4" width="6.3" height="6.3" fill="#ff0000"/>
<rect x="535.9" y="89.9" width="6.3" height="6.3" fill="#ff0000"/>
<rect x="535.9" y="85.3" width="6.3" height="6.3" fill="#ff9800"/>
<rect x="540.5" y="181.0" width="6.3" height="6.3" fill="#d4002e"/>
<rect x="540.5" y="176.5" width="6.3" height="6.3" fill="#ff0000"/>
<rect x="540.5" y="171.9" width="6.3" height="6.3" fill="#ff0000"/>
<rect x="540.5" y="99.0" width="6.3" height="6.3" fill="#7600a2"/>
<rect x="540.5" y="94.4" width="6.3" height="6.3" fill="#ff0000"/>
<rect x="540.5" y="89.9" width="6.3" height="6.3" fill="#ff0000"/>
<rect x="540.5" y="85.3" width="6.3" height="6.3" fill="#ff0000"/>
<rect x="540.5" y="80.8" width="6.3" height="6.3" fill="#d4002e"/>
<rect x="540.5" y="76.2" width="6.3" height="6.3" fill="#ff0000"/>
<rect x="540.5" y="58.0" width="6.3" height="6.3" fill="#ff0000"/>
<rect x="545.1" y="322.3" width="6.3" height="6.3" fill="#ff9800"/>
<rect x="545.1" y="313.2" width="6.3" height="6.3" fill="#ff9800"/>
<rect x="545.1" y="285.8" width="6.3" height="6.3" fill="#ffff00"/>
<rect x="545.1" y="226.6" width="6.3" height="6.3" fill="#ff0000"/>
<rect x="545.1" y="176.5" width="6.3" height="6.3" fill="#ff9800"/>
<rect x="545.1" y="103.5" width="6.3" height="6.3" fill="#d4002e"/>
<rect x="545.1" y="99.0" width="6.3" height="6.3" fill="#ff0000"/>
<rect x="545.1" y="94.4" width="6.3" height="6.3" fill="#ff0000"/>
<rect x="545.1" y="62.5" width="6.3" height="6.3" fill="#d4002e"/>
<rect x="545.1" y="58.0" width="6.3" height="6.3" fill="#ff0000"/>
<rect x="545.1" y="48.9" width="6.3" height="6.3" fill="#ff0000"/>
<rect x="549.6" y="108.1" width="6.3" height="6.3" fill="#0a0aff"/>
<rect x="549.6" y="103.5" width="6.3" height="6.3" fill="#ff0000"/>
<rect x="549.6" y="99.0" width="6.3" height="6.3" fill="#ff0000"/>
<rect x="549.6" y="94.4" width="6.3" height="6.3" fill="#ff0000"/>
<rect x="549.6" y="89.9" width="6.3" height="6.3" fill="#ff0000"/>
<rect x="549.6" y="62.5" width="6.3" height="6.3" fill="#ff0000"/>
<rect x="549.6" y="58.0" width="6.3" height="6.3" fill="#ff9800"/>
<rect x="549.6" y="53.4" width="6.3" height="6.3" fill="#ff0000"/>
<rect x="554.2" y="108.1" width="6.3" height="6.3" fill="#a80062"/>
<rect x="554.2" y="103.5" width="6.3" height="6.3" fill="#ff0000"/>
<rect x="554.2" y="67.1" width="6.3" height="6.3" fill="#ff0000"/>
<rect x="554.2" y="62.5" width="6.3" height="6.3" fill="#ff9800"/>
<rect x="554.2" y="58.0" width="6.3" height="6.3" fill="#ff0000"/>
<rect x="554.2" y="53.4" width="6.3" height="6.3" fill="#ff0000"/>
<rect x="554.2" y="48.9" width="6.3" height="6.3" fill="#ff5500"/>
<rect x="558.8" y="108.1" width="6.3" height="6.3" fill="#7600a2"/>
<rect x="558.8" y="99.0" width="6.3" height="6.3" fill="#7600a2"/>
<rect x="558.8" y="89.9" width="6.3" height="6.3" fill="#d4002e"/>
<rect x="558.8" y="62.5" width="6.3" height="6.3" fill="#ff9800"/>
<rect x="577.0" y="135.4" width="6.3" height="6.3" fill="#0a0aff"/>
<rect x="577.0" y="130.9" width="6.3" height="6.3" fill="#7600a2"/>
<rect x="577.0" y="126.3" width="6.3" height="6.3" fill="#7600a2"/>
<rect x="581.5" y="294.9" width="6.3" height="6.3" fill="#ffd000"/>
<rect x="581.5" y="285.8" width="6.3" height="6.3" fill="#ffff00"/>
<rect x="581.5" y="140.0" width="6.3" height="6.3" fill="#d4002e"/>
<rect x="581.5" y="135.4" width="6.3" height="6.3" fill="#ff0000"/>
<rect x="581.5" y="130.9" width="6.3" height="6.3" fill="#ff0000"/>
<rect x="581.5" y="48.9" width="6.3" height="6.3" fill="#ff0000"/>
<rect x="586.1" y="313.2" width="6.3" height="6.3" fill="#ffff00"/>
<rect x="586.1" y="299.5" width="6.3" height="6.3" fill="#ffd000"/>
<rect x="586.1" y="294.9" width="6.3" height="6.3" fill="#ffff9c"/>
<rect x="586.1" y="285.8" width="6.3" height="6.3" fill="#ffff00"/>
<rect x="586.1" y="144.6" width="6.3" height="6.3" fill="#0a0aff"/>
<rect x="586.1" y="140.0" width="6.3" height="6.3" fill="#ff0000"/>
<rect x="586.1" y="135.4" width="6.3" height="6.3" fill="#ff0000"/>
<rect x="586.1" y="126.3" width="6.3" height="6.3" fill="#7600a2"/>
<rect x="590.7" y="313.2" width="6.3" height="6.3" fill="#ffff00"/>
<rect x="590.7" y="304.1" width="6.3" height="6.3" fill="#ffd000"/>
<rect x="590.7" y="299.5" width="6.3" height="6.3" fill="#ffff00"/>
<rect x="590.7" y="294.9" width="6.3" height="6.3" fill="#ffff00"/>
<rect x="590.7" y="290.4" width="6.3" height="6.3" fill="#ffff00"/>
<rect x="590.7" y="285.8" width="6.3" height="6.3" fill="#ffff00"/>
<rect x="590.7" y="149.1" width="6.3" height="6.3" fill="#ff0000"/>
<rect x="590.7" y="144.6" width="6.3" height="6.3" fill="#ff0000"/>
<rect x="590.7" y="140.0" width="6.3" height="6.3" fill="#ff0000"/>
<rect x="590.7" y="135.4" width="6.3" height="6.3" fill="#ff0000"/>
<rect x="590.7" y="58.0" width="6.3" height="6.3" fill="#ff0000"/>
<rect x="595.2" y="153.7" width="6.3" height="6.3" fill="#7600a2"/>
<rect x="595.2" y="144.6" width="6.3" height="6.3" fill="#ff0000"/>
<rect x="595.2" y="135.4" width="6.3" height="6.3" fill="#d4002e"/>
<rect x="595.2" y="126.3" width="6.3" height="6.3" fill="#a80062"/>
<rect x="595.2" y="62.5" width="6.3" height="6.3" fill="#d4002e"/>
<rect x="595.2" y="58.0" width="6.3" height="6.3" fill="#ff0000"/>
<rect x="599.8" y="158.2" width="6.3" height="6.3" fill="#d4002e"/>
<rect x="599.8" y="153.7" width="6.3" height="6.3" fill="#ff0000"/>
<rect x="599.8" y="149.1" width="6.3" height="6.3" fill="#ff9800"/>
<rect x="599.8" y="144.6" width="6.3" height="6.3" fill="#d4002e"/>
<rect x="604.4" y="144.6" width="6.3" height="6.3" fill="#d4002e"/>
<rect x="604.4" y="62.5" width="6.3" height="6.3" fill="#7600a2"/>
<rect x="604.4" y="58.0" width="6.3" height="6.3" fill="#a80062"/>
<rect x="608.9" y="203.8" width="6.3" height="6.3" fill="#ff9800"/>
<rect x="608.9" y="181.0" width="6.3" height="6.3" fill="#ff9800"/>
<rect x="608.9" y="144.6" width="6.3" height="6.3" fill="#d4002e"/>
<rect x="608.9" y="58.0" width="6.3" height="6.3" fill="#d4002e"/>
<rect x="608.9" y="53.4" width="6.3" height="6.3" fill="#d4002e"/>
<rect x="613.5" y="203.8" width="6.3" height="6.3" fill="#ff9800"/>
<rect x="613.5" y="190.1" width="6.3" height="6.3" fill="#ff0000"/>
<rect x="613.5" y="53.4" width="6.3" height="6.3" fill="#d4002e"/>
<rect x="618.0" y="190.1" width="6.3" height="6.3" fill="#ff0000"/>
<rect x="618.0" y="130.9" width="6.3" height="6.3" fill="#d4002e"/>
<rect x="622.6" y="140.0" width="6.3" height="6.3" fill="#7600a2"/>
<rect x="622.6" y="135.4" width="6.3" height="6.3" fill="#ff0000"/>
<rect x="622.6" y="130.9" width="6.3" height="6.3" fill="#ff9800"/>
<rect x="622.6" y="126.3" width="6.3" height="6.3" fill="#ff9800"/>
<rect x="622.6" y="89.9" width="6.3" height="6.3" fill="#ff0000"/>
<rect x="622.6" y="80.8" width="6.3" height="6.3" fill="#7600a2"/>
<rect x="627.1" y="185.6" width="6.3" height="6.3" fill="#d4002e"/>
<rect x="627.1" y="181.0" width="6.3" height="6.3" fill="#ff0000"/>
<rect x="627.1" y="176.5" width="6.3" height="6.3" fill="#d4002e"/>
<rect x="627.1" y="144.6" width="6.3" height="6.3" fill="#ff0000"/>
<rect x="627.1" y="140.0" width="6.3" height="6.3" fill="#ff0000"/>
<rect x="627.1" y="135.4" width="6.3" height="6.3" fill="#ff9800"/>
<rect x="627.1" y="130.9" width="6.3" height="6.3" fill="#ff0000"/>
<rect x="627.1" y="94.4" width="6.3" height="6.3" fill="#ff0000"/>
<rect x="627.1" y="89.9" width="6.3" height="6.3" fill="#ff0000"/>
<rect x="627.1" y="80.8" width="6.3" height="6.3" fill="#a80062"/>
<rect x="627.1" y="76.2" width="6.3" height="6.3" fill="#d4002e"/>
<rect x="631.7" y="203.8" width="6.3" height="6.3" fill="#ff9800"/>
<rect x="631.7" y="190.1" width="6.3" height="6.3" fill="#ff0000"/>
<rect x="631.7" y="185.6" width="6.3" height="6.3" fill="#ff5500"/>
<rect x="631.7" y="181.0" width="6.3" height="6.3" fill="#ff9800"/>
<rect x="631.7" y="76.2" width="6.3" height="6.3" fill="#d4002e"/>
<rect x="631.7" y="71.7" width="6.3" height="6.3" fill="#d4002e"/>
<rect x="636.3" y="194.7" width="6.3" height="6.3" fill="#d4002e"/>
<rect x="636.3" y="190.1" width="6.3" height="6.3" fill="#ff9800"/>
<rect x="636.3" y="185.6" width="6.3" height="6.3" fill="#ff5500"/>
<rect x="636.3" y="181.0" width="6.3" height="6.3" fill="#ff0000"/>
<rect x="636.3" y="176.5" width="6.3" height="6.3" fill="#ff0000"/>
<rect x="636.3" y="140.0" width="6.3" height="6.3" fill="#d4002e"/>
<rect x="636.3" y="130.9" width="6.3" height="6.3" fill="#ff9800"/>
<rect x="636.3" y="103.5" width="6.3" height="6.3" fill="#ff5500"/>
<rect x="640.8" y="194.7" width="6.3" height="6.3" fill="#ff0000"/>
<rect x="640.8" y="190.1" width="6.3" height="6.3" fill="#ff9800"/>
<rect x="640.8" y="185.6" width="6.3" height="6.3" fill="#ff9800"/>
<rect x="645.4" y="203.8" width="6.3" height="6.3" fill="#ffff00"/>
<rect x="645.4" y="194.7" width="6.3" height="6.3" fill="#ff0000"/>
<rect x="645.4" y="190.1" width="6.3" height="6.3" fill="#ff5500"/>
<rect x="645.4" y="185.6" width="6.3" height="6.3" fill="#ffff00"/></g>
<rect x="126.9" y="29.9" width="535.3" height="534.2" fill="none" stroke="#000" stroke-width="5.3"/>
<rect x="124.0" y="564" width="4" height="7.2" fill="#14120e"/>
<text transform="translate(119.4,596.0) scale(1.035,1)" font-family="Liberation Sans, sans-serif" font-size="28" font-weight="bold" text-anchor="start" fill="#161616" >0</text>
<rect x="119" y="562.2" width="6" height="4" fill="#14120e"/>
<text transform="translate(92.8,568.8) scale(1.035,1)" font-family="Liberation Sans, sans-serif" font-size="28" font-weight="bold" text-anchor="start" fill="#161616" >0</text>
<rect x="215.6" y="564" width="4" height="7.2" fill="#14120e"/>
<text transform="translate(202.9,596.0) scale(1.035,1)" font-family="Liberation Sans, sans-serif" font-size="28" font-weight="bold" text-anchor="start" fill="#161616" >2</text><text transform="translate(219.1,596.0) scale(1.035,1)" font-family="Liberation Sans, sans-serif" font-size="28" font-weight="bold" text-anchor="start" fill="#161616" >0</text>
<rect x="119" y="470.9" width="6" height="4" fill="#14120e"/>
<text transform="translate(76.7,480.0) scale(1.035,1)" font-family="Liberation Sans, sans-serif" font-size="28" font-weight="bold" text-anchor="start" fill="#161616" >2</text><text transform="translate(92.8,480.0) scale(1.035,1)" font-family="Liberation Sans, sans-serif" font-size="28" font-weight="bold" text-anchor="start" fill="#161616" >0</text>
<rect x="307.1" y="564" width="4" height="7.2" fill="#14120e"/>
<text transform="translate(294.5,596.0) scale(1.035,1)" font-family="Liberation Sans, sans-serif" font-size="28" font-weight="bold" text-anchor="start" fill="#161616" >4</text><text transform="translate(310.6,596.0) scale(1.035,1)" font-family="Liberation Sans, sans-serif" font-size="28" font-weight="bold" text-anchor="start" fill="#161616" >0</text>
<rect x="119" y="379.7" width="6" height="4" fill="#14120e"/>
<text transform="translate(79.1,387.2) scale(1.035,1)" font-family="Liberation Sans, sans-serif" font-size="28" font-weight="bold" text-anchor="start" fill="#161616" >4</text><text transform="translate(95.2,387.2) scale(1.035,1)" font-family="Liberation Sans, sans-serif" font-size="28" font-weight="bold" text-anchor="start" fill="#161616" >0</text>
<rect x="398.7" y="564" width="4" height="7.2" fill="#14120e"/>
<text transform="translate(386.1,596.0) scale(1.035,1)" font-family="Liberation Sans, sans-serif" font-size="28" font-weight="bold" text-anchor="start" fill="#161616" >6</text><text transform="translate(402.2,596.0) scale(1.035,1)" font-family="Liberation Sans, sans-serif" font-size="28" font-weight="bold" text-anchor="start" fill="#161616" >0</text>
<rect x="119" y="288.4" width="6" height="4" fill="#14120e"/>
<text transform="translate(79.1,294.4) scale(1.035,1)" font-family="Liberation Sans, sans-serif" font-size="28" font-weight="bold" text-anchor="start" fill="#161616" >6</text><text transform="translate(95.2,294.4) scale(1.035,1)" font-family="Liberation Sans, sans-serif" font-size="28" font-weight="bold" text-anchor="start" fill="#161616" >0</text>
<rect x="490.2" y="564" width="4" height="7.2" fill="#14120e"/>
<text transform="translate(477.6,596.0) scale(1.035,1)" font-family="Liberation Sans, sans-serif" font-size="28" font-weight="bold" text-anchor="start" fill="#161616" >8</text><text transform="translate(493.7,596.0) scale(1.035,1)" font-family="Liberation Sans, sans-serif" font-size="28" font-weight="bold" text-anchor="start" fill="#161616" >0</text>
<rect x="119" y="197.2" width="6" height="4" fill="#14120e"/>
<text transform="translate(79.1,203.8) scale(1.035,1)" font-family="Liberation Sans, sans-serif" font-size="28" font-weight="bold" text-anchor="start" fill="#161616" >8</text><text transform="translate(95.2,203.8) scale(1.035,1)" font-family="Liberation Sans, sans-serif" font-size="28" font-weight="bold" text-anchor="start" fill="#161616" >0</text>
<rect x="581.8" y="564" width="4" height="7.2" fill="#14120e"/>
<path transform="translate(563.2,576.7) scale(1.035,1) scale(0.604)" d="M8.3,0 L14.9,0 L14.9,31.9 L8.3,31.9 L8.3,8.6 L0.6,14 L0,7.4 Q6,4.2 9.4,0 Z" fill="#161616"/><text transform="translate(577.2,596.0) scale(1.035,1)" font-family="Liberation Sans, sans-serif" font-size="28" font-weight="bold" text-anchor="start" fill="#161616" >0</text><text transform="translate(593.4,596.0) scale(1.035,1)" font-family="Liberation Sans, sans-serif" font-size="28" font-weight="bold" text-anchor="start" fill="#161616" >0</text>
<rect x="119" y="105.9" width="6" height="4" fill="#14120e"/>
<path transform="translate(66.6,95.5) scale(1.035,1) scale(0.604)" d="M8.3,0 L14.9,0 L14.9,31.9 L8.3,31.9 L8.3,8.6 L0.6,14 L0,7.4 Q6,4.2 9.4,0 Z" fill="#161616"/><text transform="translate(80.7,114.8) scale(1.035,1)" font-family="Liberation Sans, sans-serif" font-size="28" font-weight="bold" text-anchor="start" fill="#161616" >0</text><text transform="translate(96.8,114.8) scale(1.035,1)" font-family="Liberation Sans, sans-serif" font-size="28" font-weight="bold" text-anchor="start" fill="#161616" >0</text>
<text transform="translate(139.8,81.8) scale(1.0,1)" font-family="Liberation Sans, sans-serif" font-size="61.5" font-weight="bold" text-anchor="start" fill="#000" >A</text>
<path transform="translate(274.7,396.4) scale(1.000)" d="M8.3,0 L14.9,0 L14.9,31.9 L8.3,31.9 L8.3,8.6 L0.6,14 L0,7.4 Q6,4.2 9.4,0 Z" fill="#5c5c5c"/>
<text transform="translate(464.7,242.0) scale(0.95,1)" font-family="Liberation Sans, sans-serif" font-size="44.8" font-weight="bold" text-anchor="middle" fill="#5c5c5c" >2</text>
<text transform="translate(639.2,70.5) scale(0.95,1)" font-family="Liberation Sans, sans-serif" font-size="44.8" font-weight="bold" text-anchor="middle" fill="#5c5c5c" >3</text>
<text transform="translate(277.6,626.0) scale(1.045,1)" font-family="Liberation Sans, sans-serif" font-size="28" font-weight="bold" text-anchor="start" fill="#161616" >Residue i</text>
<text transform="translate(24.2,338.0) rotate(-90) scale(1.03,1)" font-family="Liberation Sans, sans-serif" font-size="28.5" font-weight="bold" text-anchor="start" fill="#161616">Residue j</text>
<line x1="131.5" y1="15.4" x2="662.8" y2="15.4" stroke="#14120e" stroke-width="3.6" stroke-linecap="round"/>
<path d="M137.7,9.4 L161.5,9.4 L160.2,4.0 Q163.8,10.4 168.7,15.6 Q163.8,20.8 160.2,27.2 L161.5,21.8 L137.7,21.8 Z" fill="#14120e" stroke="#14120e" stroke-width="0.8" stroke-linejoin="round"/>
<path d="M192.5,9.3 L212.4,9.3 L211.1,3.9 Q214.7,10.3 219.6,15.5 Q214.7,20.7 211.1,27.1 L212.4,21.7 L192.5,21.7 Z" fill="#14120e" stroke="#14120e" stroke-width="0.8" stroke-linejoin="round"/>
<path d="M224.6,9.2 L239.6,9.2 L238.3,3.8 Q241.9,10.2 247.5,15.4 Q241.9,20.6 238.3,27.0 L239.6,21.6 L224.6,21.6 Z" fill="#14120e" stroke="#14120e" stroke-width="0.8" stroke-linejoin="round"/>
<path d="M287.4,9.1 L306.3,9.1 L305.0,3.7 Q308.6,10.1 314.3,15.3 Q308.6,20.5 305.0,26.9 L306.3,21.5 L287.4,21.5 Z" fill="#14120e" stroke="#14120e" stroke-width="0.8" stroke-linejoin="round"/>
<path d="M324.3,9.0 L339.2,9.0 L337.9,3.6 Q341.5,10.0 347.2,15.2 Q341.5,20.4 337.9,26.8 L339.2,21.4 L324.3,21.4 Z" fill="#14120e" stroke="#14120e" stroke-width="0.8" stroke-linejoin="round"/>
<path d="M366.1,8.9 L389.0,8.9 L387.7,3.5 Q391.3,9.9 397.0,15.1 Q391.3,20.3 387.7,26.7 L389.0,21.3 L366.1,21.3 Z" fill="#14120e" stroke="#14120e" stroke-width="0.8" stroke-linejoin="round"/>
<path d="M406.9,8.8 L425.9,8.8 L424.6,3.4 Q428.2,9.8 432.8,15.0 Q428.2,20.2 424.6,26.6 L425.9,21.2 L406.9,21.2 Z" fill="#14120e" stroke="#14120e" stroke-width="0.8" stroke-linejoin="round"/>
<path d="M467.7,8.6 L486.7,8.6 L485.4,3.2 Q489.0,9.6 493.6,14.8 Q489.0,20.0 485.4,26.4 L486.7,21.0 L467.7,21.0 Z" fill="#14120e" stroke="#14120e" stroke-width="0.8" stroke-linejoin="round"/>
<path d="M507.6,8.5 L526.5,8.5 L525.2,3.1 Q528.8,9.5 533.5,14.7 Q528.8,19.9 525.2,26.3 L526.5,20.9 L507.6,20.9 Z" fill="#14120e" stroke="#14120e" stroke-width="0.8" stroke-linejoin="round"/>
<path d="M548.4,8.4 L563.4,8.4 L562.1,3.0 Q565.7,9.4 570.3,14.6 Q565.7,19.8 562.1,26.2 L563.4,20.8 L548.4,20.8 Z" fill="#14120e" stroke="#14120e" stroke-width="0.8" stroke-linejoin="round"/>
<path d="M590.3,8.3 L605.2,8.3 L603.9,2.9 Q607.5,9.3 612.2,14.5 Q607.5,19.7 603.9,26.1 L605.2,20.7 L590.3,20.7 Z" fill="#14120e" stroke="#14120e" stroke-width="0.8" stroke-linejoin="round"/>
<path d="M643.1,8.4 L654.3,8.4 L653.0,3.0 Q656.6,9.4 661.8,14.6 Q656.6,19.8 653.0,26.2 L654.3,20.8 L643.1,20.8 Z" fill="#14120e" stroke="#14120e" stroke-width="0.8" stroke-linejoin="round"/>
<line x1="56.4" y1="35" x2="56.4" y2="560" stroke="#14120e" stroke-width="3.6"/>
<path d="M54.6,559 L56.4,565 L58.199999999999996,559 Z" fill="#14120e"/>
<path d="M50.5,56.2 L50.5,45.8 L44.4,47.1 Q51.2,43.5 56.4,38.3 Q61.6,43.5 68.4,47.1 L62.3,45.8 L62.3,56.2 Z" fill="#14120e" stroke="#14120e" stroke-width="0.8" stroke-linejoin="round"/>
<path d="M50.5,109.1 L50.5,94.8 L44.4,96.1 Q51.2,92.5 56.4,87.8 Q61.6,92.5 68.4,96.1 L62.3,94.8 L62.3,109.1 Z" fill="#14120e" stroke="#14120e" stroke-width="0.8" stroke-linejoin="round"/>
<path d="M50.5,149.2 L50.5,134.8 L44.4,136.1 Q51.2,132.5 56.4,128.5 Q61.6,132.5 68.4,136.1 L62.3,134.8 L62.3,149.2 Z" fill="#14120e" stroke="#14120e" stroke-width="0.8" stroke-linejoin="round"/>
<path d="M50.5,189.4 L50.5,172.0 L44.4,173.3 Q51.2,169.7 56.4,164.0 Q61.6,169.7 68.4,173.3 L62.3,172.0 L62.3,189.4 Z" fill="#14120e" stroke="#14120e" stroke-width="0.8" stroke-linejoin="round"/>
<path d="M50.5,229.5 L50.5,210.7 L44.4,212.0 Q51.2,208.4 56.4,204.0 Q61.6,208.4 68.4,212.0 L62.3,210.7 L62.3,229.5 Z" fill="#14120e" stroke="#14120e" stroke-width="0.8" stroke-linejoin="round"/>
<path d="M50.5,289.0 L50.5,271.4 L44.4,272.7 Q51.2,269.1 56.4,263.5 Q61.6,269.1 68.4,272.7 L62.3,271.4 L62.3,289.0 Z" fill="#14120e" stroke="#14120e" stroke-width="0.8" stroke-linejoin="round"/>
<path d="M50.5,330.2 L50.5,307.8 L44.4,309.1 Q51.2,305.5 56.4,300.6 Q61.6,305.5 68.4,309.1 L62.3,307.8 L62.3,330.2 Z" fill="#14120e" stroke="#14120e" stroke-width="0.8" stroke-linejoin="round"/>
<path d="M50.5,371.8 L50.5,356.3 L44.4,357.6 Q51.2,354.0 56.4,348.4 Q61.6,354.0 68.4,357.6 L62.3,356.3 L62.3,371.8 Z" fill="#14120e" stroke="#14120e" stroke-width="0.8" stroke-linejoin="round"/>
<path d="M50.5,407.4 L50.5,388.6 L44.4,389.9 Q51.2,386.3 56.4,380.7 Q61.6,386.3 68.4,389.9 L62.3,388.6 L62.3,407.4 Z" fill="#14120e" stroke="#14120e" stroke-width="0.8" stroke-linejoin="round"/>
<path d="M50.5,470.0 L50.5,455.7 L44.4,457.0 Q51.2,453.4 56.4,449.0 Q61.6,453.4 68.4,457.0 L62.3,455.7 L62.3,470.0 Z" fill="#14120e" stroke="#14120e" stroke-width="0.8" stroke-linejoin="round"/>
<path d="M50.5,502.3 L50.5,483.5 L44.4,484.8 Q51.2,481.2 56.4,476.3 Q61.6,481.2 68.4,484.8 L62.3,483.5 L62.3,502.3 Z" fill="#14120e" stroke="#14120e" stroke-width="0.8" stroke-linejoin="round"/>
<path d="M50.5,558.0 L50.5,533.6 L44.4,534.9 Q51.2,531.3 56.4,526.8 Q61.6,531.3 68.4,534.9 L62.3,533.6 L62.3,558.0 Z" fill="#14120e" stroke="#14120e" stroke-width="0.8" stroke-linejoin="round"/>
<g filter="url(#bl)"><rect x="789.1" y="404.6" width="6.1" height="6.1" fill="#ffff55"/>
<rect x="789.1" y="395.6" width="6.1" height="6.1" fill="#ffffd2"/>
<rect x="793.6" y="409.1" width="6.1" height="6.1" fill="#ffff9c"/>
<rect x="793.6" y="404.6" width="6.1" height="6.1" fill="#ffff9c"/>
<rect x="793.6" y="400.1" width="6.1" height="6.1" fill="#ffffd2"/>
<rect x="798.1" y="494.7" width="6.1" height="6.1" fill="#ff9800"/>
<rect x="798.1" y="490.2" width="6.1" height="6.1" fill="#ffff00"/>
<rect x="798.1" y="413.6" width="6.1" height="6.1" fill="#ffff00"/>
<rect x="798.1" y="409.1" width="6.1" height="6.1" fill="#ffffd2"/>
<rect x="798.1" y="404.6" width="6.1" height="6.1" fill="#ffffd2"/>
<rect x="798.1" y="400.1" width="6.1" height="6.1" fill="#ffffd2"/>
<rect x="798.1" y="395.6" width="6.1" height="6.1" fill="#ffffd2"/>
<rect x="802.6" y="499.2" width="6.1" height="6.1" fill="#ffff00"/>
<rect x="802.6" y="494.7" width="6.1" height="6.1" fill="#ffff55"/>
<rect x="802.6" y="490.2" width="6.1" height="6.1" fill="#ffff9c"/>
<rect x="802.6" y="409.1" width="6.1" height="6.1" fill="#ffff9c"/>
<rect x="802.6" y="404.6" width="6.1" height="6.1" fill="#ffff9c"/>
<rect x="807.1" y="503.7" width="6.1" height="6.1" fill="#ff0000"/>
<rect x="807.1" y="499.2" width="6.1" height="6.1" fill="#ffff00"/>
<rect x="807.1" y="494.7" width="6.1" height="6.1" fill="#ffff55"/>
<rect x="807.1" y="404.6" width="6.1" height="6.1" fill="#ffff00"/>
<rect x="807.1" y="355.1" width="6.1" height="6.1" fill="#ffff9c"/>
<rect x="807.1" y="319.0" width="6.1" height="6.1" fill="#ffff9c"/>
<rect x="807.1" y="215.4" width="6.1" height="6.1" fill="#ffff9c"/>
<rect x="811.6" y="508.2" width="6.1" height="6.1" fill="#ff0000"/>
<rect x="811.6" y="503.7" width="6.1" height="6.1" fill="#ff9800"/>
<rect x="811.6" y="499.2" width="6.1" height="6.1" fill="#ffff00"/>
<rect x="816.1" y="503.7" width="6.1" height="6.1" fill="#ff0000"/>
<rect x="816.1" y="499.2" width="6.1" height="6.1" fill="#ff0000"/>
<rect x="825.1" y="445.2" width="6.1" height="6.1" fill="#ff0000"/>
<rect x="829.6" y="526.3" width="6.1" height="6.1" fill="#ff0000"/>
<rect x="829.6" y="449.7" width="6.1" height="6.1" fill="#ff0000"/>
<rect x="829.6" y="445.2" width="6.1" height="6.1" fill="#ffd000"/>
<rect x="834.1" y="530.8" width="6.1" height="6.1" fill="#ff0000"/>
<rect x="834.1" y="526.3" width="6.1" height="6.1" fill="#ff9800"/>
<rect x="834.1" y="521.8" width="6.1" height="6.1" fill="#ff0000"/>
<rect x="834.1" y="454.2" width="6.1" height="6.1" fill="#ff9800"/>
<rect x="834.1" y="449.7" width="6.1" height="6.1" fill="#ffff00"/>
<rect x="834.1" y="445.2" width="6.1" height="6.1" fill="#ffff00"/>
<rect x="838.6" y="535.3" width="6.1" height="6.1" fill="#ffff00"/>
<rect x="838.6" y="530.8" width="6.1" height="6.1" fill="#ffff00"/>
<rect x="838.6" y="526.3" width="6.1" height="6.1" fill="#ffff00"/>
<rect x="838.6" y="521.8" width="6.1" height="6.1" fill="#ff0000"/>
<rect x="838.6" y="458.7" width="6.1" height="6.1" fill="#6200b2"/>
<rect x="838.6" y="454.2" width="6.1" height="6.1" fill="#ff9800"/>
<rect x="838.6" y="449.7" width="6.1" height="6.1" fill="#ff9800"/>
<rect x="838.6" y="445.2" width="6.1" height="6.1" fill="#ff9800"/>
<rect x="838.6" y="440.7" width="6.1" height="6.1" fill="#ff0000"/>
<rect x="838.6" y="418.2" width="6.1" height="6.1" fill="#ff0000"/>
<rect x="838.6" y="409.1" width="6.1" height="6.1" fill="#ff9800"/>
<rect x="843.1" y="539.8" width="6.1" height="6.1" fill="#ff9800"/>
<rect x="843.1" y="535.3" width="6.1" height="6.1" fill="#ffff55"/>
<rect x="843.1" y="530.8" width="6.1" height="6.1" fill="#ffff55"/>
<rect x="843.1" y="463.2" width="6.1" height="6.1" fill="#ff0000"/>
<rect x="843.1" y="458.7" width="6.1" height="6.1" fill="#ff0000"/>
<rect x="843.1" y="449.7" width="6.1" height="6.1" fill="#ff0000"/>
<rect x="843.1" y="409.1" width="6.1" height="6.1" fill="#ffd000"/>
<rect x="843.1" y="404.6" width="6.1" height="6.1" fill="#ffd000"/>
<rect x="843.1" y="319.0" width="6.1" height="6.1" fill="#ffff9c"/>
<rect x="847.6" y="539.8" width="6.1" height="6.1" fill="#ffff00"/>
<rect x="847.6" y="535.3" width="6.1" height="6.1" fill="#ffff9c"/>
<rect x="847.6" y="467.7" width="6.1" height="6.1" fill="#0a0aff"/>
<rect x="847.6" y="463.2" width="6.1" height="6.1" fill="#ff0000"/>
<rect x="847.6" y="458.7" width="6.1" height="6.1" fill="#d4002e"/>
<rect x="847.6" y="449.7" width="6.1" height="6.1" fill="#d4002e"/>
<rect x="847.6" y="418.2" width="6.1" height="6.1" fill="#ffd000"/>
<rect x="847.6" y="413.6" width="6.1" height="6.1" fill="#ffd000"/>
<rect x="847.6" y="409.1" width="6.1" height="6.1" fill="#ffff00"/>
<rect x="847.6" y="404.6" width="6.1" height="6.1" fill="#ffff00"/>
<rect x="852.1" y="467.7" width="6.1" height="6.1" fill="#d4002e"/>
<rect x="852.1" y="463.2" width="6.1" height="6.1" fill="#ff5500"/>
<rect x="852.1" y="458.7" width="6.1" height="6.1" fill="#9a0070"/>
<rect x="852.1" y="449.7" width="6.1" height="6.1" fill="#6200b2"/>
<rect x="852.1" y="413.6" width="6.1" height="6.1" fill="#ffff00"/>
<rect x="852.1" y="409.1" width="6.1" height="6.1" fill="#ffd000"/>
<rect x="852.1" y="404.6" width="6.1" height="6.1" fill="#ffd000"/>
<rect x="852.1" y="346.1" width="6.1" height="6.1" fill="#ffff00"/>
<rect x="852.1" y="341.6" width="6.1" height="6.1" fill="#ffd000"/>
<rect x="856.6" y="458.7" width="6.1" height="6.1" fill="#6200b2"/>
<rect x="856.6" y="449.7" width="6.1" height="6.1" fill="#ff0000"/>
<rect x="856.6" y="422.7" width="6.1" height="6.1" fill="#ff9800"/>
<rect x="856.6" y="418.2" width="6.1" height="6.1" fill="#ffff00"/>
<rect x="861.1" y="413.6" width="6.1" height="6.1" fill="#ff9800"/>
<rect x="861.1" y="341.6" width="6.1" height="6.1" fill="#ffd000"/>
<rect x="870.1" y="490.2" width="6.1" height="6.1" fill="#0a0aff"/>
<rect x="870.1" y="485.7" width="6.1" height="6.1" fill="#6200b2"/>
<rect x="874.6" y="494.7" width="6.1" height="6.1" fill="#ff0000"/>
<rect x="874.6" y="490.2" width="6.1" height="6.1" fill="#ff0000"/>
<rect x="874.6" y="485.7" width="6.1" height="6.1" fill="#ff0000"/>
<rect x="874.6" y="404.6" width="6.1" height="6.1" fill="#ffff00"/>
<rect x="874.6" y="346.1" width="6.1" height="6.1" fill="#ffff9c"/>
<rect x="874.6" y="319.0" width="6.1" height="6.1" fill="#ffff9c"/>
<rect x="879.1" y="499.2" width="6.1" height="6.1" fill="#9a0070"/>
<rect x="879.1" y="494.7" width="6.1" height="6.1" fill="#d4002e"/>
<rect x="879.1" y="490.2" width="6.1" height="6.1" fill="#d4002e"/>
<rect x="879.1" y="485.7" width="6.1" height="6.1" fill="#9a0070"/>
<rect x="879.1" y="481.2" width="6.1" height="6.1" fill="#9a0070"/>
<rect x="879.1" y="418.2" width="6.1" height="6.1" fill="#ff0000"/>
<rect x="883.6" y="503.7" width="6.1" height="6.1" fill="#ff9800"/>
<rect x="883.6" y="499.2" width="6.1" height="6.1" fill="#ff9800"/>
<rect x="883.6" y="494.7" width="6.1" height="6.1" fill="#ffd000"/>
<rect x="888.1" y="508.2" width="6.1" height="6.1" fill="#ff0000"/>
<rect x="888.1" y="503.7" width="6.1" height="6.1" fill="#ffff00"/>
<rect x="888.1" y="499.2" width="6.1" height="6.1" fill="#ff9800"/>
<rect x="888.1" y="494.7" width="6.1" height="6.1" fill="#d4002e"/>
<rect x="888.1" y="490.2" width="6.1" height="6.1" fill="#d4002e"/>
<rect x="888.1" y="485.7" width="6.1" height="6.1" fill="#6200b2"/>
<rect x="888.1" y="481.2" width="6.1" height="6.1" fill="#ff0000"/>
<rect x="888.1" y="418.2" width="6.1" height="6.1" fill="#d4002e"/>
<rect x="888.1" y="413.6" width="6.1" height="6.1" fill="#d4002e"/>
<rect x="892.6" y="512.8" width="6.1" height="6.1" fill="#ff0000"/>
<rect x="892.6" y="508.2" width="6.1" height="6.1" fill="#ffd000"/>
<rect x="892.6" y="503.7" width="6.1" height="6.1" fill="#ffff00"/>
<rect x="892.6" y="499.2" width="6.1" height="6.1" fill="#ff9800"/>
<rect x="892.6" y="418.2" width="6.1" height="6.1" fill="#d4002e"/>
<rect x="897.1" y="499.2" width="6.1" height="6.1" fill="#ff0000"/>
<rect x="897.1" y="418.2" width="6.1" height="6.1" fill="#ff0000"/>
<rect x="901.6" y="418.2" width="6.1" height="6.1" fill="#6200b2"/>
<rect x="915.1" y="481.2" width="6.1" height="6.1" fill="#ff9800"/>
<rect x="919.6" y="499.2" width="6.1" height="6.1" fill="#ff0000"/>
<rect x="919.6" y="490.2" width="6.1" height="6.1" fill="#ff9800"/>
<rect x="919.6" y="485.7" width="6.1" height="6.1" fill="#ffff00"/>
<rect x="919.6" y="481.2" width="6.1" height="6.1" fill="#ffff00"/>
<rect x="919.6" y="458.7" width="6.1" height="6.1" fill="#ff0000"/>
<rect x="919.6" y="449.7" width="6.1" height="6.1" fill="#d4002e"/>
<rect x="919.6" y="445.2" width="6.1" height="6.1" fill="#d4002e"/>
<rect x="919.6" y="440.7" width="6.1" height="6.1" fill="#ff0000"/>
<rect x="919.6" y="436.2" width="6.1" height="6.1" fill="#6200b2"/>
<rect x="924.1" y="539.8" width="6.1" height="6.1" fill="#ffff00"/>
<rect x="924.1" y="490.2" width="6.1" height="6.1" fill="#ffff00"/>
<rect x="924.1" y="485.7" width="6.1" height="6.1" fill="#ffff9c"/>
<rect x="924.1" y="481.2" width="6.1" height="6.1" fill="#ffd000"/>
<rect x="924.1" y="476.7" width="6.1" height="6.1" fill="#ff9800"/>
<rect x="924.1" y="449.7" width="6.1" height="6.1" fill="#d4002e"/>
<rect x="928.6" y="539.8" width="6.1" height="6.1" fill="#ffff9c"/>
<rect x="928.6" y="535.3" width="6.1" height="6.1" fill="#ffff9c"/>
<rect x="928.6" y="499.2" width="6.1" height="6.1" fill="#ff9800"/>
<rect x="928.6" y="494.7" width="6.1" height="6.1" fill="#ffff9c"/>
<rect x="928.6" y="490.2" width="6.1" height="6.1" fill="#ffd000"/>
<rect x="928.6" y="485.7" width="6.1" height="6.1" fill="#ff9800"/>
<rect x="928.6" y="346.1" width="6.1" height="6.1" fill="#d4002e"/>
<rect x="933.1" y="548.8" width="6.1" height="6.1" fill="#ffff9c"/>
<rect x="933.1" y="544.3" width="6.1" height="6.1" fill="#ffff9c"/>
<rect x="933.1" y="539.8" width="6.1" height="6.1" fill="#ffffd2"/>
<rect x="933.1" y="535.3" width="6.1" height="6.1" fill="#ffff9c"/>
<rect x="933.1" y="530.8" width="6.1" height="6.1" fill="#ffff55"/>
<rect x="933.1" y="494.7" width="6.1" height="6.1" fill="#ffff00"/>
<rect x="933.1" y="490.2" width="6.1" height="6.1" fill="#ffd000"/>
<rect x="933.1" y="485.7" width="6.1" height="6.1" fill="#ff9800"/>
<rect x="933.1" y="463.2" width="6.1" height="6.1" fill="#ffff00"/>
<rect x="933.1" y="355.1" width="6.1" height="6.1" fill="#d4002e"/>
<rect x="933.1" y="350.6" width="6.1" height="6.1" fill="#ff0000"/>
<rect x="933.1" y="346.1" width="6.1" height="6.1" fill="#d4002e"/>
<rect x="933.1" y="328.1" width="6.1" height="6.1" fill="#6200b2"/>
<rect x="933.1" y="323.5" width="6.1" height="6.1" fill="#d4002e"/>
<rect x="933.1" y="319.0" width="6.1" height="6.1" fill="#ff0000"/>
<rect x="933.1" y="274.0" width="6.1" height="6.1" fill="#ff0000"/>
<rect x="937.6" y="539.8" width="6.1" height="6.1" fill="#ffff9c"/>
<rect x="937.6" y="359.6" width="6.1" height="6.1" fill="#0a0aff"/>
<rect x="937.6" y="355.1" width="6.1" height="6.1" fill="#ff0000"/>
<rect x="937.6" y="350.6" width="6.1" height="6.1" fill="#ff0000"/>
<rect x="942.1" y="548.8" width="6.1" height="6.1" fill="#ffff9c"/>
<rect x="942.1" y="544.3" width="6.1" height="6.1" fill="#ffff9c"/>
<rect x="942.1" y="539.8" width="6.1" height="6.1" fill="#ffff9c"/>
<rect x="942.1" y="364.1" width="6.1" height="6.1" fill="#d4002e"/>
<rect x="942.1" y="359.6" width="6.1" height="6.1" fill="#ff0000"/>
<rect x="942.1" y="355.1" width="6.1" height="6.1" fill="#ff0000"/>
<rect x="942.1" y="215.4" width="6.1" height="6.1" fill="#ff9800"/>
<rect x="946.6" y="368.6" width="6.1" height="6.1" fill="#0a0aff"/>
<rect x="946.6" y="364.1" width="6.1" height="6.1" fill="#ff0000"/>
<rect x="946.6" y="359.6" width="6.1" height="6.1" fill="#ff0000"/>
<rect x="946.6" y="350.6" width="6.1" height="6.1" fill="#6200b2"/>
<rect x="946.6" y="323.5" width="6.1" height="6.1" fill="#6200b2"/>
<rect x="951.1" y="368.6" width="6.1" height="6.1" fill="#6200b2"/>
<rect x="951.1" y="364.1" width="6.1" height="6.1" fill="#d4002e"/>
<rect x="955.6" y="364.1" width="6.1" height="6.1" fill="#6200b2"/>
<rect x="955.6" y="359.6" width="6.1" height="6.1" fill="#6200b2"/>
<rect x="955.6" y="350.6" width="6.1" height="6.1" fill="#0a0aff"/>
<rect x="955.6" y="323.5" width="6.1" height="6.1" fill="#6200b2"/>
<rect x="955.6" y="260.5" width="6.1" height="6.1" fill="#d4002e"/>
<rect x="955.6" y="256.0" width="6.1" height="6.1" fill="#ff0000"/>
<rect x="955.6" y="251.5" width="6.1" height="6.1" fill="#ff5500"/>
<rect x="955.6" y="228.9" width="6.1" height="6.1" fill="#d4002e"/>
<rect x="964.6" y="219.9" width="6.1" height="6.1" fill="#ff0000"/>
<rect x="969.1" y="391.1" width="6.1" height="6.1" fill="#0a0aff"/>
<rect x="969.1" y="386.6" width="6.1" height="6.1" fill="#6200b2"/>
<rect x="969.1" y="247.0" width="6.1" height="6.1" fill="#d4002e"/>
<rect x="969.1" y="242.5" width="6.1" height="6.1" fill="#d4002e"/>
<rect x="969.1" y="228.9" width="6.1" height="6.1" fill="#0a0aff"/>
<rect x="969.1" y="224.4" width="6.1" height="6.1" fill="#6200b2"/>
<rect x="969.1" y="215.4" width="6.1" height="6.1" fill="#d4002e"/>
<rect x="969.1" y="170.4" width="6.1" height="6.1" fill="#ff0000"/>
<rect x="969.1" y="165.9" width="6.1" height="6.1" fill="#ff0000"/>
<rect x="973.6" y="395.6" width="6.1" height="6.1" fill="#d4002e"/>
<rect x="973.6" y="391.1" width="6.1" height="6.1" fill="#ff0000"/>
<rect x="973.6" y="386.6" width="6.1" height="6.1" fill="#d4002e"/>
<rect x="973.6" y="382.1" width="6.1" height="6.1" fill="#6200b2"/>
<rect x="973.6" y="233.4" width="6.1" height="6.1" fill="#0a0aff"/>
<rect x="973.6" y="228.9" width="6.1" height="6.1" fill="#6200b2"/>
<rect x="973.6" y="224.4" width="6.1" height="6.1" fill="#6200b2"/>
<rect x="973.6" y="219.9" width="6.1" height="6.1" fill="#d4002e"/>
<rect x="973.6" y="215.4" width="6.1" height="6.1" fill="#ff0000"/>
<rect x="978.1" y="400.1" width="6.1" height="6.1" fill="#0a0aff"/>
<rect x="978.1" y="395.6" width="6.1" height="6.1" fill="#ff0000"/>
<rect x="978.1" y="391.1" width="6.1" height="6.1" fill="#ff0000"/>
<rect x="978.1" y="382.1" width="6.1" height="6.1" fill="#6200b2"/>
<rect x="978.1" y="323.5" width="6.1" height="6.1" fill="#0a0aff"/>
<rect x="978.1" y="260.5" width="6.1" height="6.1" fill="#d4002e"/>
<rect x="978.1" y="233.4" width="6.1" height="6.1" fill="#0a0aff"/>
<rect x="978.1" y="228.9" width="6.1" height="6.1" fill="#6200b2"/>
<rect x="982.6" y="530.8" width="6.1" height="6.1" fill="#ffff9c"/>
<rect x="982.6" y="404.6" width="6.1" height="6.1" fill="#d4002e"/>
<rect x="982.6" y="400.1" width="6.1" height="6.1" fill="#ff0000"/>
<rect x="982.6" y="395.6" width="6.1" height="6.1" fill="#ff0000"/>
<rect x="982.6" y="328.1" width="6.1" height="6.1" fill="#0a0aff"/>
<rect x="982.6" y="323.5" width="6.1" height="6.1" fill="#6200b2"/>
<rect x="982.6" y="319.0" width="6.1" height="6.1" fill="#9a0070"/>
<rect x="982.6" y="274.0" width="6.1" height="6.1" fill="#6200b2"/>
<rect x="982.6" y="233.4" width="6.1" height="6.1" fill="#6200b2"/>
<rect x="982.6" y="228.9" width="6.1" height="6.1" fill="#6200b2"/>
<rect x="982.6" y="224.4" width="6.1" height="6.1" fill="#6200b2"/>
<rect x="982.6" y="215.4" width="6.1" height="6.1" fill="#d4002e"/>
<rect x="982.6" y="174.9" width="6.1" height="6.1" fill="#ff9800"/>
<rect x="987.1" y="404.6" width="6.1" height="6.1" fill="#ff0000"/>
<rect x="987.1" y="400.1" width="6.1" height="6.1" fill="#ff0000"/>
<rect x="987.1" y="391.1" width="6.1" height="6.1" fill="#6200b2"/>
<rect x="987.1" y="382.1" width="6.1" height="6.1" fill="#0a0aff"/>
<rect x="987.1" y="332.6" width="6.1" height="6.1" fill="#0a0aff"/>
<rect x="987.1" y="328.1" width="6.1" height="6.1" fill="#6200b2"/>
<rect x="987.1" y="323.5" width="6.1" height="6.1" fill="#6200b2"/>
<rect x="987.1" y="274.0" width="6.1" height="6.1" fill="#6200b2"/>
<rect x="991.6" y="485.7" width="6.1" height="6.1" fill="#ffff00"/>
<rect x="991.6" y="463.2" width="6.1" height="6.1" fill="#ffff00"/>
<rect x="991.6" y="409.1" width="6.1" height="6.1" fill="#d4002e"/>
<rect x="991.6" y="404.6" width="6.1" height="6.1" fill="#d4002e"/>
<rect x="991.6" y="328.1" width="6.1" height="6.1" fill="#6200b2"/>
<rect x="991.6" y="274.0" width="6.1" height="6.1" fill="#6200b2"/>
<rect x="996.1" y="485.7" width="6.1" height="6.1" fill="#ffd000"/>
<rect x="996.1" y="476.7" width="6.1" height="6.1" fill="#ffd000"/>
<rect x="1005.1" y="350.6" width="6.1" height="6.1" fill="#0a0aff"/>
<rect x="1005.1" y="269.5" width="6.1" height="6.1" fill="#0a0aff"/>
<rect x="1005.1" y="265.0" width="6.1" height="6.1" fill="#ff0000"/>
<rect x="1005.1" y="260.5" width="6.1" height="6.1" fill="#d4002e"/>
<rect x="1009.6" y="404.6" width="6.1" height="6.1" fill="#6200b2"/>
<rect x="1009.6" y="355.1" width="6.1" height="6.1" fill="#0a0aff"/>
<rect x="1009.6" y="350.6" width="6.1" height="6.1" fill="#6200b2"/>
<rect x="1009.6" y="346.1" width="6.1" height="6.1" fill="#6200b2"/>
<rect x="1009.6" y="274.0" width="6.1" height="6.1" fill="#6200b2"/>
<rect x="1009.6" y="269.5" width="6.1" height="6.1" fill="#6200b2"/>
<rect x="1014.1" y="404.6" width="6.1" height="6.1" fill="#d4002e"/>
<rect x="1014.1" y="391.1" width="6.1" height="6.1" fill="#6200b2"/>
<rect x="1014.1" y="382.1" width="6.1" height="6.1" fill="#6200b2"/>
<rect x="1014.1" y="359.6" width="6.1" height="6.1" fill="#0a0aff"/>
<rect x="1014.1" y="355.1" width="6.1" height="6.1" fill="#6200b2"/>
<rect x="1014.1" y="350.6" width="6.1" height="6.1" fill="#6200b2"/>
<rect x="1014.1" y="278.5" width="6.1" height="6.1" fill="#0a0aff"/>
<rect x="1014.1" y="274.0" width="6.1" height="6.1" fill="#4a00c8"/>
<rect x="1014.1" y="269.5" width="6.1" height="6.1" fill="#6200b2"/>
<rect x="1014.1" y="265.0" width="6.1" height="6.1" fill="#6200b2"/>
<rect x="1014.1" y="260.5" width="6.1" height="6.1" fill="#6200b2"/>
<rect x="1014.1" y="233.4" width="6.1" height="6.1" fill="#6200b2"/>
<rect x="1014.1" y="228.9" width="6.1" height="6.1" fill="#6200b2"/>
<rect x="1018.6" y="530.8" width="6.1" height="6.1" fill="#ffff9c"/>
<rect x="1018.6" y="494.7" width="6.1" height="6.1" fill="#ffff9c"/>
<rect x="1018.6" y="463.2" width="6.1" height="6.1" fill="#ffff9c"/>
<rect x="1018.6" y="404.6" width="6.1" height="6.1" fill="#ff0000"/>
<rect x="1018.6" y="355.1" width="6.1" height="6.1" fill="#9a0070"/>
<rect x="1018.6" y="283.0" width="6.1" height="6.1" fill="#6200b2"/>
<rect x="1018.6" y="278.5" width="6.1" height="6.1" fill="#6200b2"/>
<rect x="1018.6" y="274.0" width="6.1" height="6.1" fill="#d4002e"/>
<rect x="1018.6" y="269.5" width="6.1" height="6.1" fill="#d4002e"/>
<rect x="1018.6" y="238.0" width="6.1" height="6.1" fill="#0a0aff"/>
<rect x="1018.6" y="224.4" width="6.1" height="6.1" fill="#6200b2"/>
<rect x="1018.6" y="174.9" width="6.1" height="6.1" fill="#ff5500"/>
<rect x="1018.6" y="138.8" width="6.1" height="6.1" fill="#ffff00"/>
<rect x="1023.1" y="287.5" width="6.1" height="6.1" fill="#0a0aff"/>
<rect x="1023.1" y="283.0" width="6.1" height="6.1" fill="#d4002e"/>
<rect x="1023.1" y="278.5" width="6.1" height="6.1" fill="#6200b2"/>
<rect x="1023.1" y="274.0" width="6.1" height="6.1" fill="#6200b2"/>
<rect x="1023.1" y="269.5" width="6.1" height="6.1" fill="#6200b2"/>
<rect x="1023.1" y="265.0" width="6.1" height="6.1" fill="#0a0aff"/>
<rect x="1023.1" y="238.0" width="6.1" height="6.1" fill="#d4002e"/>
<rect x="1023.1" y="233.4" width="6.1" height="6.1" fill="#d4002e"/>
<rect x="1023.1" y="224.4" width="6.1" height="6.1" fill="#0a0aff"/>
<rect x="1023.1" y="138.8" width="6.1" height="6.1" fill="#ffd000"/>
<rect x="1027.6" y="287.5" width="6.1" height="6.1" fill="#ff0000"/>
<rect x="1027.6" y="283.0" width="6.1" height="6.1" fill="#ff0000"/>
<rect x="1027.6" y="278.5" width="6.1" height="6.1" fill="#6200b2"/>
<rect x="1027.6" y="238.0" width="6.1" height="6.1" fill="#d4002e"/>
<rect x="1027.6" y="224.4" width="6.1" height="6.1" fill="#0a0aff"/>
<rect x="1027.6" y="165.9" width="6.1" height="6.1" fill="#ff9800"/>
<rect x="1027.6" y="161.4" width="6.1" height="6.1" fill="#ff0000"/>
<rect x="1027.6" y="147.9" width="6.1" height="6.1" fill="#ff5500"/>
<rect x="1027.6" y="138.8" width="6.1" height="6.1" fill="#ffd000"/>
<rect x="1027.6" y="93.8" width="6.1" height="6.1" fill="#ffff00"/>
<rect x="1032.1" y="287.5" width="6.1" height="6.1" fill="#d4002e"/>
<rect x="1032.1" y="238.0" width="6.1" height="6.1" fill="#6200b2"/>
<rect x="1032.1" y="161.4" width="6.1" height="6.1" fill="#ff0000"/>
<rect x="1032.1" y="93.8" width="6.1" height="6.1" fill="#ffff00"/>
<rect x="1036.6" y="147.9" width="6.1" height="6.1" fill="#ff5500"/>
<rect x="1041.1" y="98.3" width="6.1" height="6.1" fill="#ffff55"/>
<rect x="1041.1" y="93.8" width="6.1" height="6.1" fill="#ffff55"/>
<rect x="1045.6" y="125.3" width="6.1" height="6.1" fill="#ffff00"/>
<rect x="1045.6" y="102.8" width="6.1" height="6.1" fill="#ffff00"/>
<rect x="1045.6" y="93.8" width="6.1" height="6.1" fill="#ffff55"/>
<rect x="1050.1" y="314.5" width="6.1" height="6.1" fill="#0a0aff"/>
<rect x="1050.1" y="310.0" width="6.1" height="6.1" fill="#ff0000"/>
<rect x="1050.1" y="305.5" width="6.1" height="6.1" fill="#d4002e"/>
<rect x="1050.1" y="93.8" width="6.1" height="6.1" fill="#ffff55"/>
<rect x="1054.6" y="319.0" width="6.1" height="6.1" fill="#6200b2"/>
<rect x="1054.6" y="314.5" width="6.1" height="6.1" fill="#d4002e"/>
<rect x="1054.6" y="310.0" width="6.1" height="6.1" fill="#ff0000"/>
<rect x="1054.6" y="138.8" width="6.1" height="6.1" fill="#ffff00"/>
<rect x="1054.6" y="107.3" width="6.1" height="6.1" fill="#ffff00"/>
<rect x="1054.6" y="102.8" width="6.1" height="6.1" fill="#ffff9c"/>
<rect x="1054.6" y="93.8" width="6.1" height="6.1" fill="#ffff55"/>
<rect x="1059.1" y="323.5" width="6.1" height="6.1" fill="#0a0aff"/>
<rect x="1059.1" y="319.0" width="6.1" height="6.1" fill="#6200b2"/>
<rect x="1059.1" y="314.5" width="6.1" height="6.1" fill="#6200b2"/>
<rect x="1059.1" y="310.0" width="6.1" height="6.1" fill="#6200b2"/>
<rect x="1059.1" y="238.0" width="6.1" height="6.1" fill="#0a0aff"/>
<rect x="1059.1" y="233.4" width="6.1" height="6.1" fill="#0a0aff"/>
<rect x="1063.6" y="404.6" width="6.1" height="6.1" fill="#ff0000"/>
<rect x="1063.6" y="355.1" width="6.1" height="6.1" fill="#6200b2"/>
<rect x="1063.6" y="350.6" width="6.1" height="6.1" fill="#6200b2"/>
<rect x="1063.6" y="346.1" width="6.1" height="6.1" fill="#6200b2"/>
<rect x="1063.6" y="328.1" width="6.1" height="6.1" fill="#6200b2"/>
<rect x="1063.6" y="323.5" width="6.1" height="6.1" fill="#4a00c8"/>
<rect x="1063.6" y="319.0" width="6.1" height="6.1" fill="#d4002e"/>
<rect x="1063.6" y="314.5" width="6.1" height="6.1" fill="#6200b2"/>
<rect x="1068.1" y="332.6" width="6.1" height="6.1" fill="#0a0aff"/>
<rect x="1068.1" y="328.1" width="6.1" height="6.1" fill="#6200b2"/>
<rect x="1068.1" y="323.5" width="6.1" height="6.1" fill="#6200b2"/>
<rect x="1068.1" y="319.0" width="6.1" height="6.1" fill="#d4002e"/>
<rect x="1068.1" y="314.5" width="6.1" height="6.1" fill="#6200b2"/>
<rect x="1068.1" y="233.4" width="6.1" height="6.1" fill="#6200b2"/>
<rect x="1072.6" y="332.6" width="6.1" height="6.1" fill="#ff0000"/>
<rect x="1072.6" y="323.5" width="6.1" height="6.1" fill="#6200b2"/>
<rect x="1072.6" y="314.5" width="6.1" height="6.1" fill="#0a0aff"/>
<rect x="1072.6" y="233.4" width="6.1" height="6.1" fill="#6200b2"/>
<rect x="1077.1" y="382.1" width="6.1" height="6.1" fill="#d4002e"/>
<rect x="1077.1" y="359.6" width="6.1" height="6.1" fill="#9a0070"/>
<rect x="1077.1" y="332.6" width="6.1" height="6.1" fill="#d4002e"/>
<rect x="1077.1" y="323.5" width="6.1" height="6.1" fill="#6200b2"/>
<rect x="1077.1" y="228.9" width="6.1" height="6.1" fill="#6200b2"/>
<rect x="1081.6" y="382.1" width="6.1" height="6.1" fill="#ff0000"/>
<rect x="1081.6" y="238.0" width="6.1" height="6.1" fill="#0a0aff"/>
<rect x="1081.6" y="233.4" width="6.1" height="6.1" fill="#9a0070"/>
<rect x="1086.1" y="382.1" width="6.1" height="6.1" fill="#ff5500"/>
<rect x="1086.1" y="228.9" width="6.1" height="6.1" fill="#6200b2"/>
<rect x="1090.6" y="368.6" width="6.1" height="6.1" fill="#9a0070"/>
<rect x="1090.6" y="228.9" width="6.1" height="6.1" fill="#6200b2"/>
<rect x="1095.1" y="368.6" width="6.1" height="6.1" fill="#9a0070"/>
<rect x="1095.1" y="165.9" width="6.1" height="6.1" fill="#ff9800"/>
<rect x="1095.1" y="161.4" width="6.1" height="6.1" fill="#ffd000"/>
<rect x="1099.6" y="364.1" width="6.1" height="6.1" fill="#0a0aff"/>
<rect x="1099.6" y="359.6" width="6.1" height="6.1" fill="#0a0aff"/>
<rect x="1099.6" y="319.0" width="6.1" height="6.1" fill="#0a0aff"/>
<rect x="1099.6" y="314.5" width="6.1" height="6.1" fill="#d4002e"/>
<rect x="1099.6" y="310.0" width="6.1" height="6.1" fill="#d4002e"/>
<rect x="1099.6" y="305.5" width="6.1" height="6.1" fill="#6200b2"/>
<rect x="1099.6" y="278.5" width="6.1" height="6.1" fill="#4a00c8"/>
<rect x="1099.6" y="256.0" width="6.1" height="6.1" fill="#0a0aff"/>
<rect x="1099.6" y="165.9" width="6.1" height="6.1" fill="#ff9800"/>
<rect x="1099.6" y="161.4" width="6.1" height="6.1" fill="#ffd000"/>
<rect x="1104.1" y="368.6" width="6.1" height="6.1" fill="#6200b2"/>
<rect x="1104.1" y="364.1" width="6.1" height="6.1" fill="#6200b2"/>
<rect x="1104.1" y="359.6" width="6.1" height="6.1" fill="#6200b2"/>
<rect x="1104.1" y="355.1" width="6.1" height="6.1" fill="#6200b2"/>
<rect x="1104.1" y="323.5" width="6.1" height="6.1" fill="#6200b2"/>
<rect x="1104.1" y="319.0" width="6.1" height="6.1" fill="#6200b2"/>
<rect x="1104.1" y="314.5" width="6.1" height="6.1" fill="#6200b2"/>
<rect x="1104.1" y="278.5" width="6.1" height="6.1" fill="#4a00c8"/>
<rect x="1104.1" y="269.5" width="6.1" height="6.1" fill="#6200b2"/>
<rect x="1104.1" y="265.0" width="6.1" height="6.1" fill="#6200b2"/>
<rect x="1104.1" y="260.5" width="6.1" height="6.1" fill="#6200b2"/>
<rect x="1104.1" y="256.0" width="6.1" height="6.1" fill="#6200b2"/>
<rect x="1104.1" y="170.4" width="6.1" height="6.1" fill="#d4002e"/>
<rect x="1108.6" y="382.1" width="6.1" height="6.1" fill="#d4002e"/>
<rect x="1108.6" y="368.6" width="6.1" height="6.1" fill="#6200b2"/>
<rect x="1108.6" y="364.1" width="6.1" height="6.1" fill="#d4002e"/>
<rect x="1108.6" y="359.6" width="6.1" height="6.1" fill="#d4002e"/>
<rect x="1108.6" y="355.1" width="6.1" height="6.1" fill="#6200b2"/>
<rect x="1108.6" y="323.5" width="6.1" height="6.1" fill="#6200b2"/>
<rect x="1108.6" y="319.0" width="6.1" height="6.1" fill="#6200b2"/>
<rect x="1108.6" y="260.5" width="6.1" height="6.1" fill="#6200b2"/>
<rect x="1108.6" y="256.0" width="6.1" height="6.1" fill="#6200b2"/>
<rect x="1108.6" y="247.0" width="6.1" height="6.1" fill="#6200b2"/>
<rect x="1108.6" y="165.9" width="6.1" height="6.1" fill="#ff0000"/>
<rect x="1113.1" y="373.1" width="6.1" height="6.1" fill="#d4002e"/>
<rect x="1113.1" y="368.6" width="6.1" height="6.1" fill="#ff0000"/>
<rect x="1113.1" y="359.6" width="6.1" height="6.1" fill="#6200b2"/>
<rect x="1113.1" y="355.1" width="6.1" height="6.1" fill="#6200b2"/>
<rect x="1113.1" y="319.0" width="6.1" height="6.1" fill="#6200b2"/>
<rect x="1113.1" y="314.5" width="6.1" height="6.1" fill="#6200b2"/>
<rect x="1113.1" y="310.0" width="6.1" height="6.1" fill="#6200b2"/>
<rect x="1113.1" y="174.9" width="6.1" height="6.1" fill="#ff9800"/>
<rect x="1113.1" y="170.4" width="6.1" height="6.1" fill="#ff9800"/>
<rect x="1113.1" y="165.9" width="6.1" height="6.1" fill="#ff5500"/>
<rect x="1113.1" y="147.9" width="6.1" height="6.1" fill="#d4002e"/>
<rect x="1113.1" y="138.8" width="6.1" height="6.1" fill="#ffd000"/>
<rect x="1113.1" y="93.8" width="6.1" height="6.1" fill="#ffff00"/>
<rect x="1117.6" y="368.6" width="6.1" height="6.1" fill="#ff0000"/>
<rect x="1117.6" y="364.1" width="6.1" height="6.1" fill="#ff0000"/>
<rect x="1117.6" y="179.4" width="6.1" height="6.1" fill="#6200b2"/>
<rect x="1117.6" y="174.9" width="6.1" height="6.1" fill="#ff0000"/>
<rect x="1117.6" y="170.4" width="6.1" height="6.1" fill="#ff9800"/>
<rect x="1122.1" y="530.8" width="6.1" height="6.1" fill="#ffff9c"/>
<rect x="1122.1" y="395.6" width="6.1" height="6.1" fill="#ff9800"/>
<rect x="1122.1" y="355.1" width="6.1" height="6.1" fill="#9a0070"/>
<rect x="1122.1" y="183.9" width="6.1" height="6.1" fill="#ff0000"/>
<rect x="1122.1" y="179.4" width="6.1" height="6.1" fill="#ff0000"/>
<rect x="1122.1" y="174.9" width="6.1" height="6.1" fill="#ff0000"/>
<rect x="1122.1" y="39.7" width="6.1" height="6.1" fill="#ffff9c"/>
<rect x="1126.6" y="188.4" width="6.1" height="6.1" fill="#0a0aff"/>
<rect x="1126.6" y="183.9" width="6.1" height="6.1" fill="#ff0000"/>
<rect x="1126.6" y="179.4" width="6.1" height="6.1" fill="#ff0000"/>
<rect x="1126.6" y="170.4" width="6.1" height="6.1" fill="#d4002e"/>
<rect x="1126.6" y="143.3" width="6.1" height="6.1" fill="#ff5500"/>
<rect x="1126.6" y="75.8" width="6.1" height="6.1" fill="#ffff55"/>
<rect x="1131.1" y="188.4" width="6.1" height="6.1" fill="#d4002e"/>
<rect x="1131.1" y="183.9" width="6.1" height="6.1" fill="#ff0000"/>
<rect x="1135.6" y="179.4" width="6.1" height="6.1" fill="#d4002e"/>
<rect x="1135.6" y="143.3" width="6.1" height="6.1" fill="#ff5500"/>
<rect x="1135.6" y="75.8" width="6.1" height="6.1" fill="#ffff9c"/>
<rect x="1135.6" y="53.2" width="6.1" height="6.1" fill="#ffff9c"/>
<rect x="1144.6" y="48.7" width="6.1" height="6.1" fill="#ffff00"/>
<rect x="1144.6" y="44.2" width="6.1" height="6.1" fill="#ffff55"/>
<rect x="1149.1" y="210.9" width="6.1" height="6.1" fill="#0a0aff"/>
<rect x="1149.1" y="206.4" width="6.1" height="6.1" fill="#6200b2"/>
<rect x="1149.1" y="53.2" width="6.1" height="6.1" fill="#ffff9c"/>
<rect x="1149.1" y="48.7" width="6.1" height="6.1" fill="#ffff9c"/>
<rect x="1149.1" y="44.2" width="6.1" height="6.1" fill="#ffff9c"/>
<rect x="1153.6" y="215.4" width="6.1" height="6.1" fill="#ff0000"/>
<rect x="1153.6" y="210.9" width="6.1" height="6.1" fill="#ff0000"/>
<rect x="1153.6" y="206.4" width="6.1" height="6.1" fill="#ff0000"/>
<rect x="1153.6" y="57.8" width="6.1" height="6.1" fill="#ffff00"/>
<rect x="1153.6" y="53.2" width="6.1" height="6.1" fill="#ffff9c"/>
<rect x="1153.6" y="48.7" width="6.1" height="6.1" fill="#ffff9c"/>
<rect x="1153.6" y="44.2" width="6.1" height="6.1" fill="#ffff9c"/>
<rect x="1153.6" y="39.7" width="6.1" height="6.1" fill="#ffff9c"/>
<rect x="1158.1" y="219.9" width="6.1" height="6.1" fill="#6200b2"/>
<rect x="1158.1" y="215.4" width="6.1" height="6.1" fill="#ff0000"/>
<rect x="1158.1" y="210.9" width="6.1" height="6.1" fill="#ff0000"/>
<rect x="1158.1" y="201.9" width="6.1" height="6.1" fill="#d4002e"/>
<rect x="1158.1" y="143.3" width="6.1" height="6.1" fill="#ff9800"/>
<rect x="1158.1" y="138.8" width="6.1" height="6.1" fill="#ff9800"/>
<rect x="1158.1" y="75.8" width="6.1" height="6.1" fill="#ffff55"/>
<rect x="1158.1" y="57.8" width="6.1" height="6.1" fill="#ffff9c"/>
<rect x="1158.1" y="48.7" width="6.1" height="6.1" fill="#ffff55"/>
<rect x="1162.6" y="355.1" width="6.1" height="6.1" fill="#ff5500"/>
<rect x="1162.6" y="319.0" width="6.1" height="6.1" fill="#ff5500"/>
<rect x="1162.6" y="224.4" width="6.1" height="6.1" fill="#ff5500"/>
<rect x="1162.6" y="219.9" width="6.1" height="6.1" fill="#ff9800"/>
<rect x="1162.6" y="215.4" width="6.1" height="6.1" fill="#ff0000"/>
<rect x="1162.6" y="147.9" width="6.1" height="6.1" fill="#6200b2"/>
<rect x="1162.6" y="143.3" width="6.1" height="6.1" fill="#ffff00"/>
<rect x="1162.6" y="138.8" width="6.1" height="6.1" fill="#ffff00"/>
<rect x="1162.6" y="57.8" width="6.1" height="6.1" fill="#ffff55"/>
<rect x="1162.6" y="48.7" width="6.1" height="6.1" fill="#ffff55"/>
<rect x="1167.1" y="368.6" width="6.1" height="6.1" fill="#ff0000"/>
<rect x="1167.1" y="228.9" width="6.1" height="6.1" fill="#d4002e"/>
<rect x="1167.1" y="224.4" width="6.1" height="6.1" fill="#ff9800"/>
<rect x="1167.1" y="219.9" width="6.1" height="6.1" fill="#ff9800"/>
<rect x="1167.1" y="210.9" width="6.1" height="6.1" fill="#d4002e"/>
<rect x="1167.1" y="152.4" width="6.1" height="6.1" fill="#ff0000"/>
<rect x="1167.1" y="147.9" width="6.1" height="6.1" fill="#ff0000"/>
<rect x="1167.1" y="143.3" width="6.1" height="6.1" fill="#ff9800"/>
<rect x="1171.6" y="368.6" width="6.1" height="6.1" fill="#ff0000"/>
<rect x="1171.6" y="310.0" width="6.1" height="6.1" fill="#ff9800"/>
<rect x="1171.6" y="242.5" width="6.1" height="6.1" fill="#ff9800"/>
<rect x="1171.6" y="238.0" width="6.1" height="6.1" fill="#ff9800"/>
<rect x="1171.6" y="228.9" width="6.1" height="6.1" fill="#ff0000"/>
<rect x="1171.6" y="224.4" width="6.1" height="6.1" fill="#ff0000"/>
<rect x="1171.6" y="147.9" width="6.1" height="6.1" fill="#d4002e"/>
<rect x="1171.6" y="138.8" width="6.1" height="6.1" fill="#ff0000"/>
<rect x="1176.1" y="310.0" width="6.1" height="6.1" fill="#ff0000"/>
<rect x="1176.1" y="305.5" width="6.1" height="6.1" fill="#ff0000"/>
<rect x="1176.1" y="242.5" width="6.1" height="6.1" fill="#ff9800"/>
<rect x="1176.1" y="238.0" width="6.1" height="6.1" fill="#ff9800"/>
<rect x="1185.1" y="170.4" width="6.1" height="6.1" fill="#d4002e"/>
<rect x="1185.1" y="89.3" width="6.1" height="6.1" fill="#ff9800"/>
<rect x="1185.1" y="84.8" width="6.1" height="6.1" fill="#ffff00"/>
<rect x="1189.6" y="310.0" width="6.1" height="6.1" fill="#ff9800"/>
<rect x="1189.6" y="301.0" width="6.1" height="6.1" fill="#ff9800"/>
<rect x="1189.6" y="224.4" width="6.1" height="6.1" fill="#d4002e"/>
<rect x="1189.6" y="174.9" width="6.1" height="6.1" fill="#6200b2"/>
<rect x="1189.6" y="170.4" width="6.1" height="6.1" fill="#ff0000"/>
<rect x="1189.6" y="165.9" width="6.1" height="6.1" fill="#d4002e"/>
<rect x="1189.6" y="93.8" width="6.1" height="6.1" fill="#ffff00"/>
<rect x="1189.6" y="89.3" width="6.1" height="6.1" fill="#ffff00"/>
<rect x="1189.6" y="84.8" width="6.1" height="6.1" fill="#ffff00"/>
<rect x="1194.1" y="210.9" width="6.1" height="6.1" fill="#ff5500"/>
<rect x="1194.1" y="201.9" width="6.1" height="6.1" fill="#ff0000"/>
<rect x="1194.1" y="179.4" width="6.1" height="6.1" fill="#ff9800"/>
<rect x="1194.1" y="174.9" width="6.1" height="6.1" fill="#ff9800"/>
<rect x="1194.1" y="170.4" width="6.1" height="6.1" fill="#ff9800"/>
<rect x="1194.1" y="98.3" width="6.1" height="6.1" fill="#ff0000"/>
<rect x="1194.1" y="93.8" width="6.1" height="6.1" fill="#ffff00"/>
<rect x="1194.1" y="89.3" width="6.1" height="6.1" fill="#ffff00"/>
<rect x="1194.1" y="80.3" width="6.1" height="6.1" fill="#ffd000"/>
<rect x="1194.1" y="75.8" width="6.1" height="6.1" fill="#ffff55"/>
<rect x="1194.1" y="57.8" width="6.1" height="6.1" fill="#ffff9c"/>
<rect x="1198.6" y="319.0" width="6.1" height="6.1" fill="#ffff00"/>
<rect x="1198.6" y="314.5" width="6.1" height="6.1" fill="#ffd000"/>
<rect x="1198.6" y="310.0" width="6.1" height="6.1" fill="#ffd000"/>
<rect x="1198.6" y="283.0" width="6.1" height="6.1" fill="#ffff00"/>
<rect x="1198.6" y="224.4" width="6.1" height="6.1" fill="#ffd000"/>
<rect x="1198.6" y="179.4" width="6.1" height="6.1" fill="#ff9800"/>
<rect x="1198.6" y="174.9" width="6.1" height="6.1" fill="#ffff00"/>
<rect x="1198.6" y="170.4" width="6.1" height="6.1" fill="#ffff00"/>
<rect x="1198.6" y="165.9" width="6.1" height="6.1" fill="#ff0000"/>
<rect x="1198.6" y="102.8" width="6.1" height="6.1" fill="#ff9800"/>
<rect x="1198.6" y="98.3" width="6.1" height="6.1" fill="#ff9800"/>
<rect x="1198.6" y="93.8" width="6.1" height="6.1" fill="#ffff00"/>
<rect x="1198.6" y="62.3" width="6.1" height="6.1" fill="#ffff00"/>
<rect x="1198.6" y="57.8" width="6.1" height="6.1" fill="#ffff9c"/>
<rect x="1198.6" y="48.7" width="6.1" height="6.1" fill="#ffff55"/>
<rect x="1203.1" y="107.3" width="6.1" height="6.1" fill="#d4002e"/>
<rect x="1203.1" y="102.8" width="6.1" height="6.1" fill="#ffff00"/>
<rect x="1203.1" y="98.3" width="6.1" height="6.1" fill="#ff9800"/>
<rect x="1203.1" y="93.8" width="6.1" height="6.1" fill="#ffd000"/>
<rect x="1203.1" y="89.3" width="6.1" height="6.1" fill="#ffd000"/>
<rect x="1203.1" y="62.3" width="6.1" height="6.1" fill="#ffff9c"/>
<rect x="1207.6" y="107.3" width="6.1" height="6.1" fill="#ff5500"/>
<rect x="1207.6" y="102.8" width="6.1" height="6.1" fill="#ff9800"/>
<rect x="1207.6" y="62.3" width="6.1" height="6.1" fill="#ffff9c"/>
<rect x="1207.6" y="53.2" width="6.1" height="6.1" fill="#ffff9c"/>
<rect x="1207.6" y="48.7" width="6.1" height="6.1" fill="#ffff55"/>
<rect x="1212.1" y="292.0" width="6.1" height="6.1" fill="#ffff00"/>
<rect x="1212.1" y="107.3" width="6.1" height="6.1" fill="#ff0000"/>
<rect x="1212.1" y="98.3" width="6.1" height="6.1" fill="#ff5500"/>
<rect x="1212.1" y="93.8" width="6.1" height="6.1" fill="#ffff9c"/>
<rect x="1212.1" y="89.3" width="6.1" height="6.1" fill="#ff5500"/>
<rect x="1212.1" y="62.3" width="6.1" height="6.1" fill="#ffff9c"/>
<rect x="1216.6" y="62.3" width="6.1" height="6.1" fill="#ffff9c"/>
<rect x="1230.1" y="283.0" width="6.1" height="6.1" fill="#ffff00"/>
<rect x="1230.1" y="134.3" width="6.1" height="6.1" fill="#6200b2"/>
<rect x="1230.1" y="129.8" width="6.1" height="6.1" fill="#ff0000"/>
<rect x="1230.1" y="125.3" width="6.1" height="6.1" fill="#ff0000"/>
<rect x="1234.6" y="292.0" width="6.1" height="6.1" fill="#ffff55"/>
<rect x="1234.6" y="283.0" width="6.1" height="6.1" fill="#ffff9c"/>
<rect x="1234.6" y="138.8" width="6.1" height="6.1" fill="#ff9800"/>
<rect x="1234.6" y="134.3" width="6.1" height="6.1" fill="#ffd000"/>
<rect x="1234.6" y="129.8" width="6.1" height="6.1" fill="#ffd000"/>
<rect x="1234.6" y="48.7" width="6.1" height="6.1" fill="#ffd000"/>
<rect x="1239.1" y="296.5" width="6.1" height="6.1" fill="#ffff55"/>
<rect x="1239.1" y="292.0" width="6.1" height="6.1" fill="#ffff55"/>
<rect x="1239.1" y="287.5" width="6.1" height="6.1" fill="#ffff55"/>
<rect x="1239.1" y="143.3" width="6.1" height="6.1" fill="#ff0000"/>
<rect x="1239.1" y="134.3" width="6.1" height="6.1" fill="#ff9800"/>
<rect x="1239.1" y="129.8" width="6.1" height="6.1" fill="#ff9800"/>
<rect x="1239.1" y="125.3" width="6.1" height="6.1" fill="#ff9800"/>
<rect x="1243.6" y="310.0" width="6.1" height="6.1" fill="#ffff55"/>
<rect x="1243.6" y="305.5" width="6.1" height="6.1" fill="#ffff00"/>
<rect x="1243.6" y="296.5" width="6.1" height="6.1" fill="#ffff55"/>
<rect x="1243.6" y="292.0" width="6.1" height="6.1" fill="#ffff55"/>
<rect x="1243.6" y="287.5" width="6.1" height="6.1" fill="#ffff55"/>
<rect x="1243.6" y="283.0" width="6.1" height="6.1" fill="#ffff55"/>
<rect x="1243.6" y="224.4" width="6.1" height="6.1" fill="#ffff00"/>
<rect x="1243.6" y="147.9" width="6.1" height="6.1" fill="#ffff00"/>
<rect x="1243.6" y="143.3" width="6.1" height="6.1" fill="#ffff00"/>
<rect x="1243.6" y="138.8" width="6.1" height="6.1" fill="#ffff00"/>
<rect x="1243.6" y="134.3" width="6.1" height="6.1" fill="#ffd000"/>
<rect x="1248.1" y="152.4" width="6.1" height="6.1" fill="#ff9800"/>
<rect x="1248.1" y="147.9" width="6.1" height="6.1" fill="#ffff00"/>
<rect x="1248.1" y="143.3" width="6.1" height="6.1" fill="#ffff00"/>
<rect x="1248.1" y="134.3" width="6.1" height="6.1" fill="#ffd000"/>
<rect x="1248.1" y="125.3" width="6.1" height="6.1" fill="#ff9800"/>
<rect x="1248.1" y="62.3" width="6.1" height="6.1" fill="#ff9800"/>
<rect x="1248.1" y="57.8" width="6.1" height="6.1" fill="#ffff00"/>
<rect x="1252.6" y="152.4" width="6.1" height="6.1" fill="#ffff00"/>
<rect x="1252.6" y="147.9" width="6.1" height="6.1" fill="#ffff00"/>
<rect x="1257.1" y="143.3" width="6.1" height="6.1" fill="#ffff00"/>
<rect x="1257.1" y="57.8" width="6.1" height="6.1" fill="#d4002e"/>
<rect x="1261.6" y="210.9" width="6.1" height="6.1" fill="#ffff55"/>
<rect x="1261.6" y="201.9" width="6.1" height="6.1" fill="#ffff9c"/>
<rect x="1261.6" y="179.4" width="6.1" height="6.1" fill="#ffff55"/>
<rect x="1261.6" y="143.3" width="6.1" height="6.1" fill="#ffff00"/>
<rect x="1261.6" y="57.8" width="6.1" height="6.1" fill="#ff0000"/>
<rect x="1261.6" y="53.2" width="6.1" height="6.1" fill="#ff0000"/>
<rect x="1266.1" y="53.2" width="6.1" height="6.1" fill="#9a0070"/>
<rect x="1275.1" y="138.8" width="6.1" height="6.1" fill="#ffff00"/>
<rect x="1275.1" y="134.3" width="6.1" height="6.1" fill="#ffff9c"/>
<rect x="1275.1" y="129.8" width="6.1" height="6.1" fill="#ffff9c"/>
<rect x="1275.1" y="125.3" width="6.1" height="6.1" fill="#ffff9c"/>
<rect x="1275.1" y="120.8" width="6.1" height="6.1" fill="#ffff9c"/>
<rect x="1275.1" y="89.3" width="6.1" height="6.1" fill="#ff9800"/>
<rect x="1279.6" y="183.9" width="6.1" height="6.1" fill="#ffff00"/>
<rect x="1279.6" y="174.9" width="6.1" height="6.1" fill="#ffff55"/>
<rect x="1279.6" y="143.3" width="6.1" height="6.1" fill="#ffff9c"/>
<rect x="1279.6" y="138.8" width="6.1" height="6.1" fill="#ffff9c"/>
<rect x="1279.6" y="134.3" width="6.1" height="6.1" fill="#ffff9c"/>
<rect x="1279.6" y="89.3" width="6.1" height="6.1" fill="#ffff00"/>
<rect x="1279.6" y="80.3" width="6.1" height="6.1" fill="#d4002e"/>
<rect x="1279.6" y="75.8" width="6.1" height="6.1" fill="#ff0000"/>
<rect x="1284.1" y="201.9" width="6.1" height="6.1" fill="#ffff9c"/>
<rect x="1284.1" y="188.4" width="6.1" height="6.1" fill="#ffff9c"/>
<rect x="1284.1" y="183.9" width="6.1" height="6.1" fill="#ffff9c"/>
<rect x="1284.1" y="179.4" width="6.1" height="6.1" fill="#ffff9c"/>
<rect x="1284.1" y="134.3" width="6.1" height="6.1" fill="#ffff9c"/>
<rect x="1284.1" y="129.8" width="6.1" height="6.1" fill="#ffff55"/>
<rect x="1284.1" y="75.8" width="6.1" height="6.1" fill="#ff0000"/>
<rect x="1284.1" y="71.3" width="6.1" height="6.1" fill="#9a0070"/>
<rect x="1288.6" y="192.9" width="6.1" height="6.1" fill="#ffff00"/>
<rect x="1288.6" y="188.4" width="6.1" height="6.1" fill="#ffff9c"/>
<rect x="1288.6" y="183.9" width="6.1" height="6.1" fill="#ffff9c"/>
<rect x="1288.6" y="179.4" width="6.1" height="6.1" fill="#ffff55"/>
<rect x="1288.6" y="174.9" width="6.1" height="6.1" fill="#ffff55"/>
<rect x="1288.6" y="138.8" width="6.1" height="6.1" fill="#ffff55"/>
<rect x="1288.6" y="129.8" width="6.1" height="6.1" fill="#ffff55"/>
<rect x="1288.6" y="102.8" width="6.1" height="6.1" fill="#ffd000"/>
<rect x="1293.1" y="192.9" width="6.1" height="6.1" fill="#ffff9c"/>
<rect x="1293.1" y="188.4" width="6.1" height="6.1" fill="#ffff9c"/>
<rect x="1293.1" y="183.9" width="6.1" height="6.1" fill="#ffff9c"/>
<rect x="1297.6" y="215.4" width="6.1" height="6.1" fill="#ffff9c"/>
<rect x="1297.6" y="183.9" width="6.1" height="6.1" fill="#ffff9c"/></g>
<circle cx="1251.2" cy="74.3" r="2.1" fill="#6a0078"/>
<circle cx="1269.2" cy="92.3" r="2.1" fill="#6a0078"/>
<rect x="786.2" y="32.5" width="525.7" height="525.9" fill="none" stroke="#000" stroke-width="5.2"/>
<rect x="962.9" y="30" width="2.2" height="528" fill="#b6b6b6"/>
<rect x="1141.5" y="30" width="2.2" height="528" fill="#b6b6b6"/>
<rect x="788.5" y="201.4" width="529" height="2.2" fill="#b6b6b6"/>
<rect x="788.5" y="380.6" width="529" height="2.2" fill="#b6b6b6"/>
<rect x="783.0" y="558" width="4" height="7" fill="#14120e"/>
<text transform="translate(774.2,600.0) scale(1.035,1)" font-family="Liberation Sans, sans-serif" font-size="28" font-weight="bold" text-anchor="start" fill="#161616" >0</text>
<rect x="778.4" y="556.4" width="6" height="4" fill="#14120e"/>
<text transform="translate(759.1,569.7) scale(1.035,1)" font-family="Liberation Sans, sans-serif" font-size="28" font-weight="bold" text-anchor="start" fill="#161616" >0</text>
<rect x="873.0" y="558" width="4" height="7" fill="#14120e"/>
<text transform="translate(856.2,600.0) scale(1.035,1)" font-family="Liberation Sans, sans-serif" font-size="28" font-weight="bold" text-anchor="start" fill="#161616" >2</text><text transform="translate(872.3,600.0) scale(1.035,1)" font-family="Liberation Sans, sans-serif" font-size="28" font-weight="bold" text-anchor="start" fill="#161616" >0</text>
<rect x="778.4" y="466.5" width="6" height="4" fill="#14120e"/>
<text transform="translate(742.7,478.4) scale(1.035,1)" font-family="Liberation Sans, sans-serif" font-size="28" font-weight="bold" text-anchor="start" fill="#161616" >2</text><text transform="translate(758.8,478.4) scale(1.035,1)" font-family="Liberation Sans, sans-serif" font-size="28" font-weight="bold" text-anchor="start" fill="#161616" >0</text>
<rect x="963.0" y="558" width="4" height="7" fill="#14120e"/>
<text transform="translate(946.1,600.0) scale(1.035,1)" font-family="Liberation Sans, sans-serif" font-size="28" font-weight="bold" text-anchor="start" fill="#161616" >4</text><text transform="translate(962.3,600.0) scale(1.035,1)" font-family="Liberation Sans, sans-serif" font-size="28" font-weight="bold" text-anchor="start" fill="#161616" >0</text>
<rect x="778.4" y="376.5" width="6" height="4" fill="#14120e"/>
<text transform="translate(740.3,387.7) scale(1.035,1)" font-family="Liberation Sans, sans-serif" font-size="28" font-weight="bold" text-anchor="start" fill="#161616" >4</text><text transform="translate(756.4,387.7) scale(1.035,1)" font-family="Liberation Sans, sans-serif" font-size="28" font-weight="bold" text-anchor="start" fill="#161616" >0</text>
<rect x="1052.9" y="558" width="4" height="7" fill="#14120e"/>
<text transform="translate(1036.1,600.0) scale(1.035,1)" font-family="Liberation Sans, sans-serif" font-size="28" font-weight="bold" text-anchor="start" fill="#161616" >6</text><text transform="translate(1052.2,600.0) scale(1.035,1)" font-family="Liberation Sans, sans-serif" font-size="28" font-weight="bold" text-anchor="start" fill="#161616" >0</text>
<rect x="778.4" y="286.6" width="6" height="4" fill="#14120e"/>
<text transform="translate(740.3,296.0) scale(1.035,1)" font-family="Liberation Sans, sans-serif" font-size="28" font-weight="bold" text-anchor="start" fill="#161616" >6</text><text transform="translate(756.4,296.0) scale(1.035,1)" font-family="Liberation Sans, sans-serif" font-size="28" font-weight="bold" text-anchor="start" fill="#161616" >0</text>
<rect x="1142.9" y="558" width="4" height="7" fill="#14120e"/>
<text transform="translate(1126.1,600.0) scale(1.035,1)" font-family="Liberation Sans, sans-serif" font-size="28" font-weight="bold" text-anchor="start" fill="#161616" >8</text><text transform="translate(1142.2,600.0) scale(1.035,1)" font-family="Liberation Sans, sans-serif" font-size="28" font-weight="bold" text-anchor="start" fill="#161616" >0</text>
<rect x="778.4" y="196.6" width="6" height="4" fill="#14120e"/>
<text transform="translate(740.3,207.7) scale(1.035,1)" font-family="Liberation Sans, sans-serif" font-size="28" font-weight="bold" text-anchor="start" fill="#161616" >8</text><text transform="translate(756.4,207.7) scale(1.035,1)" font-family="Liberation Sans, sans-serif" font-size="28" font-weight="bold" text-anchor="start" fill="#161616" >0</text>
<rect x="1232.9" y="558" width="4" height="7" fill="#14120e"/>
<path transform="translate(1210.1,580.7) scale(1.035,1) scale(0.604)" d="M8.3,0 L14.9,0 L14.9,31.9 L8.3,31.9 L8.3,8.6 L0.6,14 L0,7.4 Q6,4.2 9.4,0 Z" fill="#161616"/><text transform="translate(1224.1,600.0) scale(1.035,1)" font-family="Liberation Sans, sans-serif" font-size="28" font-weight="bold" text-anchor="start" fill="#161616" >0</text><text transform="translate(1240.3,600.0) scale(1.035,1)" font-family="Liberation Sans, sans-serif" font-size="28" font-weight="bold" text-anchor="start" fill="#161616" >0</text>
<rect x="778.4" y="106.7" width="6" height="4" fill="#14120e"/>
<path transform="translate(728.6,97.8) scale(1.035,1) scale(0.604)" d="M8.3,0 L14.9,0 L14.9,31.9 L8.3,31.9 L8.3,8.6 L0.6,14 L0,7.4 Q6,4.2 9.4,0 Z" fill="#161616"/><text transform="translate(742.7,117.1) scale(1.035,1)" font-family="Liberation Sans, sans-serif" font-size="28" font-weight="bold" text-anchor="start" fill="#161616" >0</text><text transform="translate(758.8,117.1) scale(1.035,1)" font-family="Liberation Sans, sans-serif" font-size="28" font-weight="bold" text-anchor="start" fill="#161616" >0</text>
<text transform="translate(808.3,87.6) scale(0.98,1)" font-family="Liberation Sans, sans-serif" font-size="61" font-weight="bold" text-anchor="start" fill="#000" >B</text>
<path transform="translate(931.6,394.4) scale(1.000)" d="M8.3,0 L14.9,0 L14.9,31.9 L8.3,31.9 L8.3,8.6 L0.6,14 L0,7.4 Q6,4.2 9.4,0 Z" fill="#5c5c5c"/>
<text transform="translate(1123.6,237.8) scale(0.95,1)" font-family="Liberation Sans, sans-serif" font-size="44.8" font-weight="bold" text-anchor="middle" fill="#5c5c5c" >2</text>
<text transform="translate(1298.0,70.5) scale(0.95,1)" font-family="Liberation Sans, sans-serif" font-size="44.8" font-weight="bold" text-anchor="middle" fill="#5c5c5c" >3</text>
<text transform="translate(1009.0,626.4) scale(1.05,1)" font-family="Liberation Sans, sans-serif" font-size="28" font-weight="bold" text-anchor="start" fill="#161616" >Residue i</text>
<text transform="translate(694.2,348.5) rotate(-90) scale(1.03,1)" font-family="Liberation Sans, sans-serif" font-size="28.5" font-weight="bold" text-anchor="start" fill="#161616">Residue j</text>
<line x1="789" y1="17.8" x2="1317.6" y2="17.8" stroke="#14120e" stroke-width="3.6" stroke-linecap="round"/>
<path d="M795.5,11.2 L819.4,11.2 L818.1,5.4 Q821.7,11.9 825.4,17.1 Q821.7,22.3 818.1,28.8 L819.4,23.0 L795.5,23.0 Z" fill="#14120e" stroke="#14120e" stroke-width="0.8" stroke-linejoin="round"/>
<path d="M850.3,11.2 L869.2,11.2 L867.9,5.4 Q871.5,11.9 876.2,17.1 Q871.5,22.3 867.9,28.8 L869.2,23.0 L850.3,23.0 Z" fill="#14120e" stroke="#14120e" stroke-width="0.8" stroke-linejoin="round"/>
<path d="M883.2,11.2 L897.2,11.2 L895.9,5.4 Q899.5,11.9 904.1,17.1 Q899.5,22.3 895.9,28.8 L897.2,23.0 L883.2,23.0 Z" fill="#14120e" stroke="#14120e" stroke-width="0.8" stroke-linejoin="round"/>
<path d="M944.8,11.2 L963.8,11.2 L962.5,5.4 Q966.1,11.9 970.7,17.1 Q966.1,22.3 962.5,28.8 L963.8,23.0 L944.8,23.0 Z" fill="#14120e" stroke="#14120e" stroke-width="0.8" stroke-linejoin="round"/>
<path d="M979.7,11.2 L996.7,11.2 L995.4,5.4 Q999.0,11.9 1003.6,17.1 Q999.0,22.3 995.4,28.8 L996.7,23.0 L979.7,23.0 Z" fill="#14120e" stroke="#14120e" stroke-width="0.8" stroke-linejoin="round"/>
<path d="M1022.6,11.2 L1045.5,11.2 L1044.2,5.4 Q1047.8,11.9 1052.5,17.1 Q1047.8,22.3 1044.2,28.8 L1045.5,23.0 L1022.6,23.0 Z" fill="#14120e" stroke="#14120e" stroke-width="0.8" stroke-linejoin="round"/>
<path d="M1062.4,11.2 L1081.4,11.2 L1080.1,5.4 Q1083.7,11.9 1088.3,17.1 Q1083.7,22.3 1080.1,28.8 L1081.4,23.0 L1062.4,23.0 Z" fill="#14120e" stroke="#14120e" stroke-width="0.8" stroke-linejoin="round"/>
<path d="M1123.2,11.2 L1142.1,11.2 L1140.8,5.4 Q1144.4,11.9 1149.1,17.1 Q1144.4,22.3 1140.8,28.8 L1142.1,23.0 L1123.2,23.0 Z" fill="#14120e" stroke="#14120e" stroke-width="0.8" stroke-linejoin="round"/>
<path d="M1162.9,11.2 L1181.8,11.2 L1180.5,5.4 Q1184.1,11.9 1188.8,17.1 Q1184.1,22.3 1180.5,28.8 L1181.8,23.0 L1162.9,23.0 Z" fill="#14120e" stroke="#14120e" stroke-width="0.8" stroke-linejoin="round"/>
<path d="M1203.7,11.2 L1218.7,11.2 L1217.4,5.4 Q1221.0,11.9 1225.6,17.1 Q1221.0,22.3 1217.4,28.8 L1218.7,23.0 L1203.7,23.0 Z" fill="#14120e" stroke="#14120e" stroke-width="0.8" stroke-linejoin="round"/>
<path d="M1244.6,11.2 L1260.5,11.2 L1259.2,5.4 Q1262.8,11.9 1267.5,17.1 Q1262.8,22.3 1259.2,28.8 L1260.5,23.0 L1244.6,23.0 Z" fill="#14120e" stroke="#14120e" stroke-width="0.8" stroke-linejoin="round"/>
<path d="M1297.4,11.2 L1308.8,11.2 L1307.5,5.4 Q1311.1,11.9 1316.2,17.1 Q1311.1,22.3 1307.5,28.8 L1308.8,23.0 L1297.4,23.0 Z" fill="#14120e" stroke="#14120e" stroke-width="0.8" stroke-linejoin="round"/>
<line x1="723.4" y1="29.5" x2="723.4" y2="550" stroke="#14120e" stroke-width="3.6"/>
<path d="M721.6,549 L723.4,555 L725.1999999999999,549 Z" fill="#14120e"/>
<path d="M717.4,50.8 L717.4,39.9 L711.7,41.2 Q718.2,37.6 723.4,33.3 Q728.6,37.6 735.1,41.2 L729.4,39.9 L729.4,50.8 Z" fill="#14120e" stroke="#14120e" stroke-width="0.8" stroke-linejoin="round"/>
<path d="M717.4,102.6 L717.4,87.7 L711.7,89.0 Q718.2,85.4 723.4,81.7 Q728.6,85.4 735.1,89.0 L729.4,87.7 L729.4,102.6 Z" fill="#14120e" stroke="#14120e" stroke-width="0.8" stroke-linejoin="round"/>
<path d="M717.4,142.9 L717.4,129.2 L711.7,130.5 Q718.2,126.9 723.4,122.8 Q728.6,126.9 735.1,130.5 L729.4,129.2 L729.4,142.9 Z" fill="#14120e" stroke="#14120e" stroke-width="0.8" stroke-linejoin="round"/>
<path d="M717.4,182.9 L717.4,165.2 L711.7,166.5 Q718.2,162.9 723.4,159.5 Q728.6,162.9 735.1,166.5 L729.4,165.2 L729.4,182.9 Z" fill="#14120e" stroke="#14120e" stroke-width="0.8" stroke-linejoin="round"/>
<path d="M717.4,221.9 L717.4,203.5 L711.7,204.8 Q718.2,201.2 723.4,197.8 Q728.6,201.2 735.1,204.8 L729.4,203.5 L729.4,221.9 Z" fill="#14120e" stroke="#14120e" stroke-width="0.8" stroke-linejoin="round"/>
<path d="M717.4,280.6 L717.4,264.1 L711.7,265.4 Q718.2,261.8 723.4,257.9 Q728.6,261.8 735.1,265.4 L729.4,264.1 L729.4,280.6 Z" fill="#14120e" stroke="#14120e" stroke-width="0.8" stroke-linejoin="round"/>
<path d="M717.4,321.1 L717.4,300.8 L711.7,302.1 Q718.2,298.5 723.4,294.0 Q728.6,298.5 735.1,302.1 L729.4,300.8 L729.4,321.1 Z" fill="#14120e" stroke="#14120e" stroke-width="0.8" stroke-linejoin="round"/>
<path d="M717.4,362.8 L717.4,348.6 L711.7,349.9 Q718.2,346.3 723.4,341.8 Q728.6,346.3 735.1,349.9 L729.4,348.6 L729.4,362.8 Z" fill="#14120e" stroke="#14120e" stroke-width="0.8" stroke-linejoin="round"/>
<path d="M717.4,398.4 L717.4,378.5 L711.7,379.8 Q718.2,376.2 723.4,371.7 Q728.6,376.2 735.1,379.8 L729.4,378.5 L729.4,398.4 Z" fill="#14120e" stroke="#14120e" stroke-width="0.8" stroke-linejoin="round"/>
<path d="M717.4,459.6 L717.4,446.4 L711.7,447.7 Q718.2,444.1 723.4,439.6 Q728.6,444.1 735.1,447.7 L729.4,446.4 L729.4,459.6 Z" fill="#14120e" stroke="#14120e" stroke-width="0.8" stroke-linejoin="round"/>
<path d="M717.4,492.3 L717.4,472.4 L711.7,473.7 Q718.2,470.1 723.4,465.6 Q728.6,470.1 735.1,473.7 L729.4,472.4 L729.4,492.3 Z" fill="#14120e" stroke="#14120e" stroke-width="0.8" stroke-linejoin="round"/>
<path d="M717.4,545.7 L717.4,524.0 L711.7,525.3 Q718.2,521.7 723.4,517.4 Q728.6,521.7 735.1,525.3 L729.4,524.0 L729.4,545.7 Z" fill="#14120e" stroke="#14120e" stroke-width="0.8" stroke-linejoin="round"/>
<defs><linearGradient id="cb" x1="0" y1="1" x2="0" y2="0"><stop offset="0" stop-color="#ffffff"/><stop offset="0.03" stop-color="#fffbd0"/><stop offset="0.06" stop-color="#fdf598"/><stop offset="0.1" stop-color="#faee50"/><stop offset="0.15" stop-color="#f6e614"/><stop offset="0.2" stop-color="#f8e600"/><stop offset="0.25" stop-color="#fdd208"/><stop offset="0.3" stop-color="#fbb214"/><stop offset="0.35" stop-color="#f5881c"/><stop offset="0.4" stop-color="#ee5a22"/><stop offset="0.43" stop-color="#ea3826"/><stop offset="0.46" stop-color="#e72028"/><stop offset="0.5" stop-color="#e4122c"/><stop offset="0.55" stop-color="#d40c40"/><stop offset="0.6" stop-color="#c00c58"/><stop offset="0.65" stop-color="#a8146c"/><stop offset="0.7" stop-color="#921c7c"/><stop offset="0.75" stop-color="#7c2488"/><stop offset="0.8" stop-color="#6a2a90"/><stop offset="0.85" stop-color="#543296"/><stop offset="0.9" stop-color="#423a9a"/><stop offset="0.95" stop-color="#32449e"/><stop offset="1.0" stop-color="#2a4ca2"/></linearGradient></defs>
<rect x="1326" y="21" width="21" height="543.6" fill="url(#cb)" stroke="#14120e" stroke-width="4.2"/>
<rect x="1348" y="562.9" width="7" height="3.4" fill="#14120e"/>
<text transform="translate(1359.5,574.4) scale(1.035,1)" font-family="Liberation Sans, sans-serif" font-size="28" font-weight="bold" text-anchor="start" fill="#161616" >0</text>
<rect x="1348" y="454.5" width="7" height="3.4" fill="#14120e"/>
<text transform="translate(1359.5,466.0) scale(1.035,1)" font-family="Liberation Sans, sans-serif" font-size="28" font-weight="bold" text-anchor="start" fill="#161616" >0</text><text transform="translate(1375.6,466.0) scale(1.035,1)" font-family="Liberation Sans, sans-serif" font-size="28" font-weight="bold" text-anchor="start" fill="#161616" >.</text><text transform="translate(1383.7,466.0) scale(1.035,1)" font-family="Liberation Sans, sans-serif" font-size="28" font-weight="bold" text-anchor="start" fill="#161616" >2</text>
<rect x="1348" y="346.0" width="7" height="3.4" fill="#14120e"/>
<text transform="translate(1359.5,357.5) scale(1.035,1)" font-family="Liberation Sans, sans-serif" font-size="28" font-weight="bold" text-anchor="start" fill="#161616" >0</text><text transform="translate(1375.6,357.5) scale(1.035,1)" font-family="Liberation Sans, sans-serif" font-size="28" font-weight="bold" text-anchor="start" fill="#161616" >.</text><text transform="translate(1383.7,357.5) scale(1.035,1)" font-family="Liberation Sans, sans-serif" font-size="28" font-weight="bold" text-anchor="start" fill="#161616" >4</text>
<rect x="1348" y="237.6" width="7" height="3.4" fill="#14120e"/>
<text transform="translate(1359.5,249.1) scale(1.035,1)" font-family="Liberation Sans, sans-serif" font-size="28" font-weight="bold" text-anchor="start" fill="#161616" >0</text><text transform="translate(1375.6,249.1) scale(1.035,1)" font-family="Liberation Sans, sans-serif" font-size="28" font-weight="bold" text-anchor="start" fill="#161616" >.</text><text transform="translate(1383.7,249.1) scale(1.035,1)" font-family="Liberation Sans, sans-serif" font-size="28" font-weight="bold" text-anchor="start" fill="#161616" >6</text>
<rect x="1348" y="129.1" width="7" height="3.4" fill="#14120e"/>
<text transform="translate(1359.5,140.6) scale(1.035,1)" font-family="Liberation Sans, sans-serif" font-size="28" font-weight="bold" text-anchor="start" fill="#161616" >0</text><text transform="translate(1375.6,140.6) scale(1.035,1)" font-family="Liberation Sans, sans-serif" font-size="28" font-weight="bold" text-anchor="start" fill="#161616" >.</text><text transform="translate(1383.7,140.6) scale(1.035,1)" font-family="Liberation Sans, sans-serif" font-size="28" font-weight="bold" text-anchor="start" fill="#161616" >8</text>
<rect x="1348" y="20.7" width="7" height="3.4" fill="#14120e"/>
<path transform="translate(1361.5,12.9) scale(1.035,1) scale(0.604)" d="M8.3,0 L14.9,0 L14.9,31.9 L8.3,31.9 L8.3,8.6 L0.6,14 L0,7.4 Q6,4.2 9.4,0 Z" fill="#161616"/>
</svg>
</body></html>
